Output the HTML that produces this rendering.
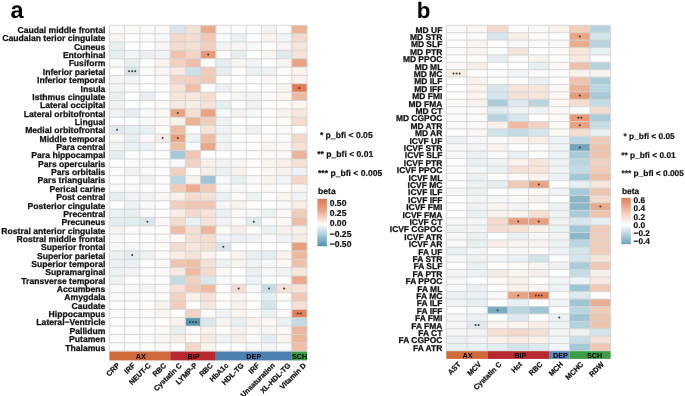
<!DOCTYPE html>
<html><head><meta charset="utf-8"><style>
html,body{margin:0;padding:0;background:#fff;}
svg{display:block;will-change:transform;}
text{font-family:"Liberation Sans",sans-serif;fill:#111;text-rendering:geometricPrecision;}
.rl{font-weight:bold;text-anchor:end;stroke:#111;stroke-width:0.25px;}
.cl{font-weight:bold;text-anchor:end;stroke:#111;stroke-width:0.25px;}
.gl{font-size:7.25px;font-weight:bold;text-anchor:middle;fill:#000;}
.pl{font-size:23.5px;font-weight:bold;fill:#000;}
.sg{font-weight:bold;stroke:#111;stroke-width:0.2px;}
.lt{font-size:8.6px;font-weight:bold;stroke:#111;stroke-width:0.2px;}
.ll{font-size:8.6px;font-weight:bold;stroke:#111;stroke-width:0.2px;}
line{stroke:#d2d2d2;stroke-width:0.9;}
line.tk{stroke:#fff;stroke-width:0.4;opacity:0.6;}
.st{fill:#383838;}
</style></head><body>
<svg width="685" height="396" viewBox="0 0 685 396">
<rect width="685" height="396" fill="#fff"/>
<rect x="109.40" y="25.30" width="15.20" height="8.355" fill="#f7f9fa"/>
<rect x="124.60" y="25.30" width="15.20" height="8.355" fill="#fbf8f5"/>
<rect x="139.80" y="25.30" width="15.20" height="8.355" fill="#f7f9fa"/>
<rect x="155.00" y="25.30" width="15.20" height="8.355" fill="#fbf8f5"/>
<rect x="170.20" y="25.30" width="15.20" height="8.355" fill="#d8e7ed"/>
<rect x="185.40" y="25.30" width="15.20" height="8.355" fill="#f5e0d4"/>
<rect x="200.60" y="25.30" width="15.20" height="8.355" fill="#eaad8f"/>
<rect x="215.80" y="25.30" width="15.20" height="8.355" fill="#fafbfb"/>
<rect x="231.00" y="25.30" width="15.20" height="8.355" fill="#fdfdfd"/>
<rect x="246.20" y="25.30" width="15.20" height="8.355" fill="#fdfdfd"/>
<rect x="261.40" y="25.30" width="15.20" height="8.355" fill="#eff3f5"/>
<rect x="276.60" y="25.30" width="15.20" height="8.355" fill="#fdfdfd"/>
<rect x="291.80" y="25.30" width="15.20" height="8.355" fill="#ebb296"/>
<rect x="109.40" y="33.66" width="15.20" height="8.355" fill="#faf4ef"/>
<rect x="124.60" y="33.66" width="15.20" height="8.355" fill="#fdfdfd"/>
<rect x="139.80" y="33.66" width="15.20" height="8.355" fill="#fcf9f7"/>
<rect x="155.00" y="33.66" width="15.20" height="8.355" fill="#f5f7f8"/>
<rect x="170.20" y="33.66" width="15.20" height="8.355" fill="#f4d8ca"/>
<rect x="185.40" y="33.66" width="15.20" height="8.355" fill="#f4dcce"/>
<rect x="200.60" y="33.66" width="15.20" height="8.355" fill="#f0c8b4"/>
<rect x="215.80" y="33.66" width="15.20" height="8.355" fill="#f7f9fa"/>
<rect x="231.00" y="33.66" width="15.20" height="8.355" fill="#eaf1f4"/>
<rect x="246.20" y="33.66" width="15.20" height="8.355" fill="#fdfdfd"/>
<rect x="261.40" y="33.66" width="15.20" height="8.355" fill="#faf3ed"/>
<rect x="276.60" y="33.66" width="15.20" height="8.355" fill="#f2f5f7"/>
<rect x="291.80" y="33.66" width="15.20" height="8.355" fill="#f4dacc"/>
<rect x="109.40" y="42.01" width="15.20" height="8.355" fill="#e6f0f3"/>
<rect x="124.60" y="42.01" width="15.20" height="8.355" fill="#fdfdfd"/>
<rect x="139.80" y="42.01" width="15.20" height="8.355" fill="#fdfdfd"/>
<rect x="155.00" y="42.01" width="15.20" height="8.355" fill="#fbf6f2"/>
<rect x="170.20" y="42.01" width="15.20" height="8.355" fill="#f4dcce"/>
<rect x="185.40" y="42.01" width="15.20" height="8.355" fill="#f5e0d4"/>
<rect x="200.60" y="42.01" width="15.20" height="8.355" fill="#f2d1c0"/>
<rect x="215.80" y="42.01" width="15.20" height="8.355" fill="#f2f5f7"/>
<rect x="231.00" y="42.01" width="15.20" height="8.355" fill="#fbf6f2"/>
<rect x="246.20" y="42.01" width="15.20" height="8.355" fill="#f7f9fa"/>
<rect x="261.40" y="42.01" width="15.20" height="8.355" fill="#fdfdfd"/>
<rect x="276.60" y="42.01" width="15.20" height="8.355" fill="#faf4ef"/>
<rect x="291.80" y="42.01" width="15.20" height="8.355" fill="#f6e5db"/>
<rect x="109.40" y="50.37" width="15.20" height="8.355" fill="#e4eff2"/>
<rect x="124.60" y="50.37" width="15.20" height="8.355" fill="#f2f5f7"/>
<rect x="139.80" y="50.37" width="15.20" height="8.355" fill="#eaf1f4"/>
<rect x="155.00" y="50.37" width="15.20" height="8.355" fill="#eff3f5"/>
<rect x="170.20" y="50.37" width="15.20" height="8.355" fill="#efc3ac"/>
<rect x="185.40" y="50.37" width="15.20" height="8.355" fill="#f3d6c6"/>
<rect x="200.60" y="50.37" width="15.20" height="8.355" fill="#e99976"/>
<rect x="215.80" y="50.37" width="15.20" height="8.355" fill="#fdfdfd"/>
<rect x="231.00" y="50.37" width="15.20" height="8.355" fill="#e3eef2"/>
<rect x="246.20" y="50.37" width="15.20" height="8.355" fill="#fdfdfd"/>
<rect x="261.40" y="50.37" width="15.20" height="8.355" fill="#faf4ef"/>
<rect x="276.60" y="50.37" width="15.20" height="8.355" fill="#deeaf0"/>
<rect x="291.80" y="50.37" width="15.20" height="8.355" fill="#f6e4d9"/>
<rect x="109.40" y="58.72" width="15.20" height="8.355" fill="#fcf9f7"/>
<rect x="124.60" y="58.72" width="15.20" height="8.355" fill="#e6f0f3"/>
<rect x="139.80" y="58.72" width="15.20" height="8.355" fill="#fdfdfd"/>
<rect x="155.00" y="58.72" width="15.20" height="8.355" fill="#faf3ed"/>
<rect x="170.20" y="58.72" width="15.20" height="8.355" fill="#f2d1c0"/>
<rect x="185.40" y="58.72" width="15.20" height="8.355" fill="#eebfa7"/>
<rect x="200.60" y="58.72" width="15.20" height="8.355" fill="#fafbfb"/>
<rect x="215.80" y="58.72" width="15.20" height="8.355" fill="#e3eef2"/>
<rect x="231.00" y="58.72" width="15.20" height="8.355" fill="#faf4ef"/>
<rect x="246.20" y="58.72" width="15.20" height="8.355" fill="#f2f5f7"/>
<rect x="261.40" y="58.72" width="15.20" height="8.355" fill="#fdfdfd"/>
<rect x="276.60" y="58.72" width="15.20" height="8.355" fill="#faf4ef"/>
<rect x="291.80" y="58.72" width="15.20" height="8.355" fill="#e9a383"/>
<rect x="109.40" y="67.08" width="15.20" height="8.355" fill="#fdfdfd"/>
<rect x="124.60" y="67.08" width="15.20" height="8.355" fill="#d8e7ed"/>
<rect x="139.80" y="67.08" width="15.20" height="8.355" fill="#fafbfb"/>
<rect x="155.00" y="67.08" width="15.20" height="8.355" fill="#fbf6f2"/>
<rect x="170.20" y="67.08" width="15.20" height="8.355" fill="#f7eae2"/>
<rect x="185.40" y="67.08" width="15.20" height="8.355" fill="#cce0e8"/>
<rect x="200.60" y="67.08" width="15.20" height="8.355" fill="#f1ccb8"/>
<rect x="215.80" y="67.08" width="15.20" height="8.355" fill="#e3eef2"/>
<rect x="231.00" y="67.08" width="15.20" height="8.355" fill="#fdfdfd"/>
<rect x="246.20" y="67.08" width="15.20" height="8.355" fill="#e8f1f3"/>
<rect x="261.40" y="67.08" width="15.20" height="8.355" fill="#edf2f5"/>
<rect x="276.60" y="67.08" width="15.20" height="8.355" fill="#fafbfb"/>
<rect x="291.80" y="67.08" width="15.20" height="8.355" fill="#faf4ef"/>
<rect x="109.40" y="75.43" width="15.20" height="8.355" fill="#f2f5f7"/>
<rect x="124.60" y="75.43" width="15.20" height="8.355" fill="#f2f5f7"/>
<rect x="139.80" y="75.43" width="15.20" height="8.355" fill="#fdfdfd"/>
<rect x="155.00" y="75.43" width="15.20" height="8.355" fill="#fcf9f7"/>
<rect x="170.20" y="75.43" width="15.20" height="8.355" fill="#f3d4c4"/>
<rect x="185.40" y="75.43" width="15.20" height="8.355" fill="#f2cfbe"/>
<rect x="200.60" y="75.43" width="15.20" height="8.355" fill="#f0cab6"/>
<rect x="215.80" y="75.43" width="15.20" height="8.355" fill="#fdfdfd"/>
<rect x="231.00" y="75.43" width="15.20" height="8.355" fill="#fdfdfd"/>
<rect x="246.20" y="75.43" width="15.20" height="8.355" fill="#fdfdfd"/>
<rect x="261.40" y="75.43" width="15.20" height="8.355" fill="#fbf8f5"/>
<rect x="276.60" y="75.43" width="15.20" height="8.355" fill="#fdfdfd"/>
<rect x="291.80" y="75.43" width="15.20" height="8.355" fill="#faf3ed"/>
<rect x="109.40" y="83.78" width="15.20" height="8.355" fill="#f2f5f7"/>
<rect x="124.60" y="83.78" width="15.20" height="8.355" fill="#f7f9fa"/>
<rect x="139.80" y="83.78" width="15.20" height="8.355" fill="#fdfdfd"/>
<rect x="155.00" y="83.78" width="15.20" height="8.355" fill="#fdfdfd"/>
<rect x="170.20" y="83.78" width="15.20" height="8.355" fill="#f6e4d9"/>
<rect x="185.40" y="83.78" width="15.20" height="8.355" fill="#eebfa7"/>
<rect x="200.60" y="83.78" width="15.20" height="8.355" fill="#fdfdfd"/>
<rect x="215.80" y="83.78" width="15.20" height="8.355" fill="#edf2f5"/>
<rect x="231.00" y="83.78" width="15.20" height="8.355" fill="#fcf9f7"/>
<rect x="246.20" y="83.78" width="15.20" height="8.355" fill="#fdfdfd"/>
<rect x="261.40" y="83.78" width="15.20" height="8.355" fill="#fdfdfd"/>
<rect x="276.60" y="83.78" width="15.20" height="8.355" fill="#faf4ef"/>
<rect x="291.80" y="83.78" width="15.20" height="8.355" fill="#e37a50"/>
<rect x="109.40" y="92.14" width="15.20" height="8.355" fill="#e6f0f3"/>
<rect x="124.60" y="92.14" width="15.20" height="8.355" fill="#fafbfb"/>
<rect x="139.80" y="92.14" width="15.20" height="8.355" fill="#e6f0f3"/>
<rect x="155.00" y="92.14" width="15.20" height="8.355" fill="#fafbfb"/>
<rect x="170.20" y="92.14" width="15.20" height="8.355" fill="#f6e6dc"/>
<rect x="185.40" y="92.14" width="15.20" height="8.355" fill="#f7e8de"/>
<rect x="200.60" y="92.14" width="15.20" height="8.355" fill="#f4dcce"/>
<rect x="215.80" y="92.14" width="15.20" height="8.355" fill="#fdfdfd"/>
<rect x="231.00" y="92.14" width="15.20" height="8.355" fill="#faf4ef"/>
<rect x="246.20" y="92.14" width="15.20" height="8.355" fill="#eff3f5"/>
<rect x="261.40" y="92.14" width="15.20" height="8.355" fill="#fcf9f7"/>
<rect x="276.60" y="92.14" width="15.20" height="8.355" fill="#fbf6f2"/>
<rect x="291.80" y="92.14" width="15.20" height="8.355" fill="#edbba2"/>
<rect x="109.40" y="100.50" width="15.20" height="8.355" fill="#eff3f5"/>
<rect x="124.60" y="100.50" width="15.20" height="8.355" fill="#fdfdfd"/>
<rect x="139.80" y="100.50" width="15.20" height="8.355" fill="#fdfdfd"/>
<rect x="155.00" y="100.50" width="15.20" height="8.355" fill="#fcf9f7"/>
<rect x="170.20" y="100.50" width="15.20" height="8.355" fill="#f7eae2"/>
<rect x="185.40" y="100.50" width="15.20" height="8.355" fill="#f8ede5"/>
<rect x="200.60" y="100.50" width="15.20" height="8.355" fill="#f6e3d7"/>
<rect x="215.80" y="100.50" width="15.20" height="8.355" fill="#e4eff2"/>
<rect x="231.00" y="100.50" width="15.20" height="8.355" fill="#fdfdfd"/>
<rect x="246.20" y="100.50" width="15.20" height="8.355" fill="#eff3f5"/>
<rect x="261.40" y="100.50" width="15.20" height="8.355" fill="#fdfdfd"/>
<rect x="276.60" y="100.50" width="15.20" height="8.355" fill="#fdfdfd"/>
<rect x="291.80" y="100.50" width="15.20" height="8.355" fill="#fbf6f2"/>
<rect x="109.40" y="108.85" width="15.20" height="8.355" fill="#edf2f5"/>
<rect x="124.60" y="108.85" width="15.20" height="8.355" fill="#e4eff2"/>
<rect x="139.80" y="108.85" width="15.20" height="8.355" fill="#f7f9fa"/>
<rect x="155.00" y="108.85" width="15.20" height="8.355" fill="#fbf6f2"/>
<rect x="170.20" y="108.85" width="15.20" height="8.355" fill="#e9a383"/>
<rect x="185.40" y="108.85" width="15.20" height="8.355" fill="#f5e0d4"/>
<rect x="200.60" y="108.85" width="15.20" height="8.355" fill="#e9a383"/>
<rect x="215.80" y="108.85" width="15.20" height="8.355" fill="#f5f7f8"/>
<rect x="231.00" y="108.85" width="15.20" height="8.355" fill="#f9f1eb"/>
<rect x="246.20" y="108.85" width="15.20" height="8.355" fill="#f5f7f8"/>
<rect x="261.40" y="108.85" width="15.20" height="8.355" fill="#fdfdfd"/>
<rect x="276.60" y="108.85" width="15.20" height="8.355" fill="#faf3ed"/>
<rect x="291.80" y="108.85" width="15.20" height="8.355" fill="#f7e8de"/>
<rect x="109.40" y="117.20" width="15.20" height="8.355" fill="#fafbfb"/>
<rect x="124.60" y="117.20" width="15.20" height="8.355" fill="#fdfdfd"/>
<rect x="139.80" y="117.20" width="15.20" height="8.355" fill="#f7f9fa"/>
<rect x="155.00" y="117.20" width="15.20" height="8.355" fill="#fcf9f7"/>
<rect x="170.20" y="117.20" width="15.20" height="8.355" fill="#faf3ed"/>
<rect x="185.40" y="117.20" width="15.20" height="8.355" fill="#ebb296"/>
<rect x="200.60" y="117.20" width="15.20" height="8.355" fill="#f1cdbb"/>
<rect x="215.80" y="117.20" width="15.20" height="8.355" fill="#edf2f5"/>
<rect x="231.00" y="117.20" width="15.20" height="8.355" fill="#fdfdfd"/>
<rect x="246.20" y="117.20" width="15.20" height="8.355" fill="#fdfdfd"/>
<rect x="261.40" y="117.20" width="15.20" height="8.355" fill="#fdfdfd"/>
<rect x="276.60" y="117.20" width="15.20" height="8.355" fill="#fcf9f7"/>
<rect x="291.80" y="117.20" width="15.20" height="8.355" fill="#f4ddd0"/>
<rect x="109.40" y="125.56" width="15.20" height="8.355" fill="#deeaf0"/>
<rect x="124.60" y="125.56" width="15.20" height="8.355" fill="#e6f0f3"/>
<rect x="139.80" y="125.56" width="15.20" height="8.355" fill="#e6f0f3"/>
<rect x="155.00" y="125.56" width="15.20" height="8.355" fill="#fdfdfd"/>
<rect x="170.20" y="125.56" width="15.20" height="8.355" fill="#edbba2"/>
<rect x="185.40" y="125.56" width="15.20" height="8.355" fill="#fdfdfd"/>
<rect x="200.60" y="125.56" width="15.20" height="8.355" fill="#f6e3d7"/>
<rect x="215.80" y="125.56" width="15.20" height="8.355" fill="#eff3f5"/>
<rect x="231.00" y="125.56" width="15.20" height="8.355" fill="#fcf9f7"/>
<rect x="246.20" y="125.56" width="15.20" height="8.355" fill="#eff3f5"/>
<rect x="261.40" y="125.56" width="15.20" height="8.355" fill="#fdfdfd"/>
<rect x="276.60" y="125.56" width="15.20" height="8.355" fill="#fbf8f5"/>
<rect x="291.80" y="125.56" width="15.20" height="8.355" fill="#fdfdfd"/>
<rect x="109.40" y="133.92" width="15.20" height="8.355" fill="#fbf6f2"/>
<rect x="124.60" y="133.92" width="15.20" height="8.355" fill="#e6f0f3"/>
<rect x="139.80" y="133.92" width="15.20" height="8.355" fill="#fcf9f7"/>
<rect x="155.00" y="133.92" width="15.20" height="8.355" fill="#f8eee7"/>
<rect x="170.20" y="133.92" width="15.20" height="8.355" fill="#e9a383"/>
<rect x="185.40" y="133.92" width="15.20" height="8.355" fill="#edf2f5"/>
<rect x="200.60" y="133.92" width="15.20" height="8.355" fill="#edbba2"/>
<rect x="215.80" y="133.92" width="15.20" height="8.355" fill="#edf2f5"/>
<rect x="231.00" y="133.92" width="15.20" height="8.355" fill="#fdfdfd"/>
<rect x="246.20" y="133.92" width="15.20" height="8.355" fill="#fdfdfd"/>
<rect x="261.40" y="133.92" width="15.20" height="8.355" fill="#fcf9f7"/>
<rect x="276.60" y="133.92" width="15.20" height="8.355" fill="#f7f9fa"/>
<rect x="291.80" y="133.92" width="15.20" height="8.355" fill="#f4d8ca"/>
<rect x="109.40" y="142.27" width="15.20" height="8.355" fill="#edf2f5"/>
<rect x="124.60" y="142.27" width="15.20" height="8.355" fill="#e8f1f3"/>
<rect x="139.80" y="142.27" width="15.20" height="8.355" fill="#eaf1f4"/>
<rect x="155.00" y="142.27" width="15.20" height="8.355" fill="#fafbfb"/>
<rect x="170.20" y="142.27" width="15.20" height="8.355" fill="#eebfa7"/>
<rect x="185.40" y="142.27" width="15.20" height="8.355" fill="#fdfdfd"/>
<rect x="200.60" y="142.27" width="15.20" height="8.355" fill="#eaa98a"/>
<rect x="215.80" y="142.27" width="15.20" height="8.355" fill="#eff3f5"/>
<rect x="231.00" y="142.27" width="15.20" height="8.355" fill="#fafbfb"/>
<rect x="246.20" y="142.27" width="15.20" height="8.355" fill="#fdfdfd"/>
<rect x="261.40" y="142.27" width="15.20" height="8.355" fill="#faf4ef"/>
<rect x="276.60" y="142.27" width="15.20" height="8.355" fill="#fbf8f5"/>
<rect x="291.80" y="142.27" width="15.20" height="8.355" fill="#f5e1d6"/>
<rect x="109.40" y="150.62" width="15.20" height="8.355" fill="#e3eef2"/>
<rect x="124.60" y="150.62" width="15.20" height="8.355" fill="#fafbfb"/>
<rect x="139.80" y="150.62" width="15.20" height="8.355" fill="#fdfdfd"/>
<rect x="155.00" y="150.62" width="15.20" height="8.355" fill="#fdfdfd"/>
<rect x="170.20" y="150.62" width="15.20" height="8.355" fill="#a6c9d9"/>
<rect x="185.40" y="150.62" width="15.20" height="8.355" fill="#f0c6b1"/>
<rect x="200.60" y="150.62" width="15.20" height="8.355" fill="#fdfdfd"/>
<rect x="215.80" y="150.62" width="15.20" height="8.355" fill="#fdfdfd"/>
<rect x="231.00" y="150.62" width="15.20" height="8.355" fill="#fdfdfd"/>
<rect x="246.20" y="150.62" width="15.20" height="8.355" fill="#fdfdfd"/>
<rect x="261.40" y="150.62" width="15.20" height="8.355" fill="#fbf8f5"/>
<rect x="276.60" y="150.62" width="15.20" height="8.355" fill="#fbf8f5"/>
<rect x="291.80" y="150.62" width="15.20" height="8.355" fill="#ebb296"/>
<rect x="109.40" y="158.98" width="15.20" height="8.355" fill="#fdfdfd"/>
<rect x="124.60" y="158.98" width="15.20" height="8.355" fill="#fafbfb"/>
<rect x="139.80" y="158.98" width="15.20" height="8.355" fill="#f7f9fa"/>
<rect x="155.00" y="158.98" width="15.20" height="8.355" fill="#fdfdfd"/>
<rect x="170.20" y="158.98" width="15.20" height="8.355" fill="#f7f9fa"/>
<rect x="185.40" y="158.98" width="15.20" height="8.355" fill="#f2d2c2"/>
<rect x="200.60" y="158.98" width="15.20" height="8.355" fill="#f9f1eb"/>
<rect x="215.80" y="158.98" width="15.20" height="8.355" fill="#eff3f5"/>
<rect x="231.00" y="158.98" width="15.20" height="8.355" fill="#fbf6f2"/>
<rect x="246.20" y="158.98" width="15.20" height="8.355" fill="#fdfdfd"/>
<rect x="261.40" y="158.98" width="15.20" height="8.355" fill="#faf4ef"/>
<rect x="276.60" y="158.98" width="15.20" height="8.355" fill="#f9f0e9"/>
<rect x="291.80" y="158.98" width="15.20" height="8.355" fill="#f5e1d6"/>
<rect x="109.40" y="167.34" width="15.20" height="8.355" fill="#fafbfb"/>
<rect x="124.60" y="167.34" width="15.20" height="8.355" fill="#eff3f5"/>
<rect x="139.80" y="167.34" width="15.20" height="8.355" fill="#f7f9fa"/>
<rect x="155.00" y="167.34" width="15.20" height="8.355" fill="#fdfdfd"/>
<rect x="170.20" y="167.34" width="15.20" height="8.355" fill="#f2cfbe"/>
<rect x="185.40" y="167.34" width="15.20" height="8.355" fill="#fdfdfd"/>
<rect x="200.60" y="167.34" width="15.20" height="8.355" fill="#f8eee7"/>
<rect x="215.80" y="167.34" width="15.20" height="8.355" fill="#e8f1f3"/>
<rect x="231.00" y="167.34" width="15.20" height="8.355" fill="#f9f1eb"/>
<rect x="246.20" y="167.34" width="15.20" height="8.355" fill="#fdfdfd"/>
<rect x="261.40" y="167.34" width="15.20" height="8.355" fill="#fbf6f2"/>
<rect x="276.60" y="167.34" width="15.20" height="8.355" fill="#f9f1eb"/>
<rect x="291.80" y="167.34" width="15.20" height="8.355" fill="#eaf1f4"/>
<rect x="109.40" y="175.69" width="15.20" height="8.355" fill="#fdfdfd"/>
<rect x="124.60" y="175.69" width="15.20" height="8.355" fill="#fdfdfd"/>
<rect x="139.80" y="175.69" width="15.20" height="8.355" fill="#eff3f5"/>
<rect x="155.00" y="175.69" width="15.20" height="8.355" fill="#fdfdfd"/>
<rect x="170.20" y="175.69" width="15.20" height="8.355" fill="#bbd6e1"/>
<rect x="185.40" y="175.69" width="15.20" height="8.355" fill="#faf3ed"/>
<rect x="200.60" y="175.69" width="15.20" height="8.355" fill="#9fc5d6"/>
<rect x="215.80" y="175.69" width="15.20" height="8.355" fill="#f7f9fa"/>
<rect x="231.00" y="175.69" width="15.20" height="8.355" fill="#e6f0f3"/>
<rect x="246.20" y="175.69" width="15.20" height="8.355" fill="#fcf9f7"/>
<rect x="261.40" y="175.69" width="15.20" height="8.355" fill="#faf3ed"/>
<rect x="276.60" y="175.69" width="15.20" height="8.355" fill="#f2f5f7"/>
<rect x="291.80" y="175.69" width="15.20" height="8.355" fill="#f3d6c6"/>
<rect x="109.40" y="184.05" width="15.20" height="8.355" fill="#fcf9f7"/>
<rect x="124.60" y="184.05" width="15.20" height="8.355" fill="#fcf9f7"/>
<rect x="139.80" y="184.05" width="15.20" height="8.355" fill="#fdfdfd"/>
<rect x="155.00" y="184.05" width="15.20" height="8.355" fill="#fdfdfd"/>
<rect x="170.20" y="184.05" width="15.20" height="8.355" fill="#f0cab6"/>
<rect x="185.40" y="184.05" width="15.20" height="8.355" fill="#eaad8f"/>
<rect x="200.60" y="184.05" width="15.20" height="8.355" fill="#f0cab6"/>
<rect x="215.80" y="184.05" width="15.20" height="8.355" fill="#f7f9fa"/>
<rect x="231.00" y="184.05" width="15.20" height="8.355" fill="#f7f9fa"/>
<rect x="246.20" y="184.05" width="15.20" height="8.355" fill="#fdfdfd"/>
<rect x="261.40" y="184.05" width="15.20" height="8.355" fill="#fbf8f5"/>
<rect x="276.60" y="184.05" width="15.20" height="8.355" fill="#fdfdfd"/>
<rect x="291.80" y="184.05" width="15.20" height="8.355" fill="#fbf6f2"/>
<rect x="109.40" y="192.40" width="15.20" height="8.355" fill="#e4eff2"/>
<rect x="124.60" y="192.40" width="15.20" height="8.355" fill="#eff3f5"/>
<rect x="139.80" y="192.40" width="15.20" height="8.355" fill="#eff3f5"/>
<rect x="155.00" y="192.40" width="15.20" height="8.355" fill="#fbf6f2"/>
<rect x="170.20" y="192.40" width="15.20" height="8.355" fill="#f9f0e9"/>
<rect x="185.40" y="192.40" width="15.20" height="8.355" fill="#f4ddd0"/>
<rect x="200.60" y="192.40" width="15.20" height="8.355" fill="#f6e3d7"/>
<rect x="215.80" y="192.40" width="15.20" height="8.355" fill="#eaf1f4"/>
<rect x="231.00" y="192.40" width="15.20" height="8.355" fill="#fcf9f7"/>
<rect x="246.20" y="192.40" width="15.20" height="8.355" fill="#ebf2f4"/>
<rect x="261.40" y="192.40" width="15.20" height="8.355" fill="#fdfdfd"/>
<rect x="276.60" y="192.40" width="15.20" height="8.355" fill="#faf4ef"/>
<rect x="291.80" y="192.40" width="15.20" height="8.355" fill="#eff3f5"/>
<rect x="109.40" y="200.76" width="15.20" height="8.355" fill="#fdfdfd"/>
<rect x="124.60" y="200.76" width="15.20" height="8.355" fill="#eff3f5"/>
<rect x="139.80" y="200.76" width="15.20" height="8.355" fill="#fcf9f7"/>
<rect x="155.00" y="200.76" width="15.20" height="8.355" fill="#fdfdfd"/>
<rect x="170.20" y="200.76" width="15.20" height="8.355" fill="#f1cdbb"/>
<rect x="185.40" y="200.76" width="15.20" height="8.355" fill="#f0c6b1"/>
<rect x="200.60" y="200.76" width="15.20" height="8.355" fill="#f0c6b1"/>
<rect x="215.80" y="200.76" width="15.20" height="8.355" fill="#f5f7f8"/>
<rect x="231.00" y="200.76" width="15.20" height="8.355" fill="#faf4ef"/>
<rect x="246.20" y="200.76" width="15.20" height="8.355" fill="#fdfdfd"/>
<rect x="261.40" y="200.76" width="15.20" height="8.355" fill="#fdfdfd"/>
<rect x="276.60" y="200.76" width="15.20" height="8.355" fill="#fcf9f7"/>
<rect x="291.80" y="200.76" width="15.20" height="8.355" fill="#f8eee7"/>
<rect x="109.40" y="209.11" width="15.20" height="8.355" fill="#e8f1f3"/>
<rect x="124.60" y="209.11" width="15.20" height="8.355" fill="#e6f0f3"/>
<rect x="139.80" y="209.11" width="15.20" height="8.355" fill="#f7f9fa"/>
<rect x="155.00" y="209.11" width="15.20" height="8.355" fill="#fdfdfd"/>
<rect x="170.20" y="209.11" width="15.20" height="8.355" fill="#f8eee7"/>
<rect x="185.40" y="209.11" width="15.20" height="8.355" fill="#f4d8ca"/>
<rect x="200.60" y="209.11" width="15.20" height="8.355" fill="#f6e4d9"/>
<rect x="215.80" y="209.11" width="15.20" height="8.355" fill="#eaf1f4"/>
<rect x="231.00" y="209.11" width="15.20" height="8.355" fill="#fcf9f7"/>
<rect x="246.20" y="209.11" width="15.20" height="8.355" fill="#f5f7f8"/>
<rect x="261.40" y="209.11" width="15.20" height="8.355" fill="#eaf1f4"/>
<rect x="276.60" y="209.11" width="15.20" height="8.355" fill="#fcf9f7"/>
<rect x="291.80" y="209.11" width="15.20" height="8.355" fill="#f1ccb8"/>
<rect x="109.40" y="217.47" width="15.20" height="8.355" fill="#e1edf1"/>
<rect x="124.60" y="217.47" width="15.20" height="8.355" fill="#e1edf1"/>
<rect x="139.80" y="217.47" width="15.20" height="8.355" fill="#dae8ee"/>
<rect x="155.00" y="217.47" width="15.20" height="8.355" fill="#fbf8f5"/>
<rect x="170.20" y="217.47" width="15.20" height="8.355" fill="#f4ddd0"/>
<rect x="185.40" y="217.47" width="15.20" height="8.355" fill="#eaf1f4"/>
<rect x="200.60" y="217.47" width="15.20" height="8.355" fill="#f6e4d9"/>
<rect x="215.80" y="217.47" width="15.20" height="8.355" fill="#eff3f5"/>
<rect x="231.00" y="217.47" width="15.20" height="8.355" fill="#fbf8f5"/>
<rect x="246.20" y="217.47" width="15.20" height="8.355" fill="#dfecf0"/>
<rect x="261.40" y="217.47" width="15.20" height="8.355" fill="#fafbfb"/>
<rect x="276.60" y="217.47" width="15.20" height="8.355" fill="#fcf9f7"/>
<rect x="291.80" y="217.47" width="15.20" height="8.355" fill="#eebda5"/>
<rect x="109.40" y="225.82" width="15.20" height="8.355" fill="#faf3ed"/>
<rect x="124.60" y="225.82" width="15.20" height="8.355" fill="#fcfbfa"/>
<rect x="139.80" y="225.82" width="15.20" height="8.355" fill="#fcfbfa"/>
<rect x="155.00" y="225.82" width="15.20" height="8.355" fill="#fdfdfd"/>
<rect x="170.20" y="225.82" width="15.20" height="8.355" fill="#eebda5"/>
<rect x="185.40" y="225.82" width="15.20" height="8.355" fill="#f5e0d4"/>
<rect x="200.60" y="225.82" width="15.20" height="8.355" fill="#ecb69b"/>
<rect x="215.80" y="225.82" width="15.20" height="8.355" fill="#fcfbfa"/>
<rect x="231.00" y="225.82" width="15.20" height="8.355" fill="#f8ede5"/>
<rect x="246.20" y="225.82" width="15.20" height="8.355" fill="#fdfdfd"/>
<rect x="261.40" y="225.82" width="15.20" height="8.355" fill="#e8f1f3"/>
<rect x="276.60" y="225.82" width="15.20" height="8.355" fill="#f9f0e9"/>
<rect x="291.80" y="225.82" width="15.20" height="8.355" fill="#f9f1eb"/>
<rect x="109.40" y="234.18" width="15.20" height="8.355" fill="#f7f9fa"/>
<rect x="124.60" y="234.18" width="15.20" height="8.355" fill="#fdfdfd"/>
<rect x="139.80" y="234.18" width="15.20" height="8.355" fill="#fdfdfd"/>
<rect x="155.00" y="234.18" width="15.20" height="8.355" fill="#fcf9f7"/>
<rect x="170.20" y="234.18" width="15.20" height="8.355" fill="#fbf8f5"/>
<rect x="185.40" y="234.18" width="15.20" height="8.355" fill="#f5e0d4"/>
<rect x="200.60" y="234.18" width="15.20" height="8.355" fill="#f4ddd0"/>
<rect x="215.80" y="234.18" width="15.20" height="8.355" fill="#eff3f5"/>
<rect x="231.00" y="234.18" width="15.20" height="8.355" fill="#eaf1f4"/>
<rect x="246.20" y="234.18" width="15.20" height="8.355" fill="#eff3f5"/>
<rect x="261.40" y="234.18" width="15.20" height="8.355" fill="#f7f9fa"/>
<rect x="276.60" y="234.18" width="15.20" height="8.355" fill="#eff3f5"/>
<rect x="291.80" y="234.18" width="15.20" height="8.355" fill="#f8ede5"/>
<rect x="109.40" y="242.53" width="15.20" height="8.355" fill="#f5f7f8"/>
<rect x="124.60" y="242.53" width="15.20" height="8.355" fill="#f5f7f8"/>
<rect x="139.80" y="242.53" width="15.20" height="8.355" fill="#f7f9fa"/>
<rect x="155.00" y="242.53" width="15.20" height="8.355" fill="#fcf9f7"/>
<rect x="170.20" y="242.53" width="15.20" height="8.355" fill="#f4dcce"/>
<rect x="185.40" y="242.53" width="15.20" height="8.355" fill="#f6e6dc"/>
<rect x="200.60" y="242.53" width="15.20" height="8.355" fill="#f5e0d4"/>
<rect x="215.80" y="242.53" width="15.20" height="8.355" fill="#dae8ee"/>
<rect x="231.00" y="242.53" width="15.20" height="8.355" fill="#fdfdfd"/>
<rect x="246.20" y="242.53" width="15.20" height="8.355" fill="#fdfdfd"/>
<rect x="261.40" y="242.53" width="15.20" height="8.355" fill="#fdfdfd"/>
<rect x="276.60" y="242.53" width="15.20" height="8.355" fill="#fdfdfd"/>
<rect x="291.80" y="242.53" width="15.20" height="8.355" fill="#e9a07f"/>
<rect x="109.40" y="250.89" width="15.20" height="8.355" fill="#ebf2f4"/>
<rect x="124.60" y="250.89" width="15.20" height="8.355" fill="#e3eef2"/>
<rect x="139.80" y="250.89" width="15.20" height="8.355" fill="#ebf2f4"/>
<rect x="155.00" y="250.89" width="15.20" height="8.355" fill="#fbf8f5"/>
<rect x="170.20" y="250.89" width="15.20" height="8.355" fill="#f8ede5"/>
<rect x="185.40" y="250.89" width="15.20" height="8.355" fill="#f6e3d7"/>
<rect x="200.60" y="250.89" width="15.20" height="8.355" fill="#faf3ed"/>
<rect x="215.80" y="250.89" width="15.20" height="8.355" fill="#fdfdfd"/>
<rect x="231.00" y="250.89" width="15.20" height="8.355" fill="#faf3ed"/>
<rect x="246.20" y="250.89" width="15.20" height="8.355" fill="#e6f0f3"/>
<rect x="261.40" y="250.89" width="15.20" height="8.355" fill="#e3eef2"/>
<rect x="276.60" y="250.89" width="15.20" height="8.355" fill="#faf4ef"/>
<rect x="291.80" y="250.89" width="15.20" height="8.355" fill="#edbaa0"/>
<rect x="109.40" y="259.24" width="15.20" height="8.355" fill="#eaf1f4"/>
<rect x="124.60" y="259.24" width="15.20" height="8.355" fill="#eaf1f4"/>
<rect x="139.80" y="259.24" width="15.20" height="8.355" fill="#fdfdfd"/>
<rect x="155.00" y="259.24" width="15.20" height="8.355" fill="#fbf8f5"/>
<rect x="170.20" y="259.24" width="15.20" height="8.355" fill="#efc4ae"/>
<rect x="185.40" y="259.24" width="15.20" height="8.355" fill="#eebfa7"/>
<rect x="200.60" y="259.24" width="15.20" height="8.355" fill="#f6e3d7"/>
<rect x="215.80" y="259.24" width="15.20" height="8.355" fill="#ebf2f4"/>
<rect x="231.00" y="259.24" width="15.20" height="8.355" fill="#faf4ef"/>
<rect x="246.20" y="259.24" width="15.20" height="8.355" fill="#eff3f5"/>
<rect x="261.40" y="259.24" width="15.20" height="8.355" fill="#f5f7f8"/>
<rect x="276.60" y="259.24" width="15.20" height="8.355" fill="#fbf8f5"/>
<rect x="291.80" y="259.24" width="15.20" height="8.355" fill="#eec1aa"/>
<rect x="109.40" y="267.60" width="15.20" height="8.355" fill="#eaf1f4"/>
<rect x="124.60" y="267.60" width="15.20" height="8.355" fill="#eff3f5"/>
<rect x="139.80" y="267.60" width="15.20" height="8.355" fill="#fafbfb"/>
<rect x="155.00" y="267.60" width="15.20" height="8.355" fill="#fbf8f5"/>
<rect x="170.20" y="267.60" width="15.20" height="8.355" fill="#f7eae2"/>
<rect x="185.40" y="267.60" width="15.20" height="8.355" fill="#edbba2"/>
<rect x="200.60" y="267.60" width="15.20" height="8.355" fill="#f4dacc"/>
<rect x="215.80" y="267.60" width="15.20" height="8.355" fill="#fcf9f7"/>
<rect x="231.00" y="267.60" width="15.20" height="8.355" fill="#fdfdfd"/>
<rect x="246.20" y="267.60" width="15.20" height="8.355" fill="#eaf1f4"/>
<rect x="261.40" y="267.60" width="15.20" height="8.355" fill="#f5f7f8"/>
<rect x="276.60" y="267.60" width="15.20" height="8.355" fill="#eff3f5"/>
<rect x="291.80" y="267.60" width="15.20" height="8.355" fill="#f7e8de"/>
<rect x="109.40" y="275.95" width="15.20" height="8.355" fill="#edf2f5"/>
<rect x="124.60" y="275.95" width="15.20" height="8.355" fill="#fdfdfd"/>
<rect x="139.80" y="275.95" width="15.20" height="8.355" fill="#fcfbfa"/>
<rect x="155.00" y="275.95" width="15.20" height="8.355" fill="#fdfdfd"/>
<rect x="170.20" y="275.95" width="15.20" height="8.355" fill="#c3dbe4"/>
<rect x="185.40" y="275.95" width="15.20" height="8.355" fill="#f2d1c0"/>
<rect x="200.60" y="275.95" width="15.20" height="8.355" fill="#dae8ee"/>
<rect x="215.80" y="275.95" width="15.20" height="8.355" fill="#f7f9fa"/>
<rect x="231.00" y="275.95" width="15.20" height="8.355" fill="#fdfdfd"/>
<rect x="246.20" y="275.95" width="15.20" height="8.355" fill="#ebf2f4"/>
<rect x="261.40" y="275.95" width="15.20" height="8.355" fill="#fcfbfa"/>
<rect x="276.60" y="275.95" width="15.20" height="8.355" fill="#fdfdfd"/>
<rect x="291.80" y="275.95" width="15.20" height="8.355" fill="#eaa98a"/>
<rect x="109.40" y="284.31" width="15.20" height="8.355" fill="#f7f9fa"/>
<rect x="124.60" y="284.31" width="15.20" height="8.355" fill="#f5f7f8"/>
<rect x="139.80" y="284.31" width="15.20" height="8.355" fill="#f2f5f7"/>
<rect x="155.00" y="284.31" width="15.20" height="8.355" fill="#fcf9f7"/>
<rect x="170.20" y="284.31" width="15.20" height="8.355" fill="#f5e1d6"/>
<rect x="185.40" y="284.31" width="15.20" height="8.355" fill="#f0cab6"/>
<rect x="200.60" y="284.31" width="15.20" height="8.355" fill="#edbaa0"/>
<rect x="215.80" y="284.31" width="15.20" height="8.355" fill="#fdfdfd"/>
<rect x="231.00" y="284.31" width="15.20" height="8.355" fill="#f4ddd0"/>
<rect x="246.20" y="284.31" width="15.20" height="8.355" fill="#f7f9fa"/>
<rect x="261.40" y="284.31" width="15.20" height="8.355" fill="#c7dde6"/>
<rect x="276.60" y="284.31" width="15.20" height="8.355" fill="#f5e0d4"/>
<rect x="291.80" y="284.31" width="15.20" height="8.355" fill="#f6e3d7"/>
<rect x="109.40" y="292.66" width="15.20" height="8.355" fill="#f7f9fa"/>
<rect x="124.60" y="292.66" width="15.20" height="8.355" fill="#fbf8f5"/>
<rect x="139.80" y="292.66" width="15.20" height="8.355" fill="#fdfdfd"/>
<rect x="155.00" y="292.66" width="15.20" height="8.355" fill="#fbf8f5"/>
<rect x="170.20" y="292.66" width="15.20" height="8.355" fill="#f2d2c2"/>
<rect x="185.40" y="292.66" width="15.20" height="8.355" fill="#f9f1eb"/>
<rect x="200.60" y="292.66" width="15.20" height="8.355" fill="#f5e1d6"/>
<rect x="215.80" y="292.66" width="15.20" height="8.355" fill="#fdfdfd"/>
<rect x="231.00" y="292.66" width="15.20" height="8.355" fill="#faf4ef"/>
<rect x="246.20" y="292.66" width="15.20" height="8.355" fill="#fdfdfd"/>
<rect x="261.40" y="292.66" width="15.20" height="8.355" fill="#e3eef2"/>
<rect x="276.60" y="292.66" width="15.20" height="8.355" fill="#fbf8f5"/>
<rect x="291.80" y="292.66" width="15.20" height="8.355" fill="#f0c8b4"/>
<rect x="109.40" y="301.02" width="15.20" height="8.355" fill="#fdfdfd"/>
<rect x="124.60" y="301.02" width="15.20" height="8.355" fill="#fdfdfd"/>
<rect x="139.80" y="301.02" width="15.20" height="8.355" fill="#fdfdfd"/>
<rect x="155.00" y="301.02" width="15.20" height="8.355" fill="#faf3ed"/>
<rect x="170.20" y="301.02" width="15.20" height="8.355" fill="#f1cdbb"/>
<rect x="185.40" y="301.02" width="15.20" height="8.355" fill="#fdfdfd"/>
<rect x="200.60" y="301.02" width="15.20" height="8.355" fill="#f6e6dc"/>
<rect x="215.80" y="301.02" width="15.20" height="8.355" fill="#fdfdfd"/>
<rect x="231.00" y="301.02" width="15.20" height="8.355" fill="#f9f0e9"/>
<rect x="246.20" y="301.02" width="15.20" height="8.355" fill="#fdfdfd"/>
<rect x="261.40" y="301.02" width="15.20" height="8.355" fill="#d5e5ec"/>
<rect x="276.60" y="301.02" width="15.20" height="8.355" fill="#fdfdfd"/>
<rect x="291.80" y="301.02" width="15.20" height="8.355" fill="#f5e0d4"/>
<rect x="109.40" y="309.37" width="15.20" height="8.355" fill="#fafbfb"/>
<rect x="124.60" y="309.37" width="15.20" height="8.355" fill="#fcfbfa"/>
<rect x="139.80" y="309.37" width="15.20" height="8.355" fill="#fcfbfa"/>
<rect x="155.00" y="309.37" width="15.20" height="8.355" fill="#fbf6f2"/>
<rect x="170.20" y="309.37" width="15.20" height="8.355" fill="#fdfdfd"/>
<rect x="185.40" y="309.37" width="15.20" height="8.355" fill="#f2d2c2"/>
<rect x="200.60" y="309.37" width="15.20" height="8.355" fill="#fbf8f5"/>
<rect x="215.80" y="309.37" width="15.20" height="8.355" fill="#eff3f5"/>
<rect x="231.00" y="309.37" width="15.20" height="8.355" fill="#faf4ef"/>
<rect x="246.20" y="309.37" width="15.20" height="8.355" fill="#fcfbfa"/>
<rect x="261.40" y="309.37" width="15.20" height="8.355" fill="#e8f1f3"/>
<rect x="276.60" y="309.37" width="15.20" height="8.355" fill="#fcf9f7"/>
<rect x="291.80" y="309.37" width="15.20" height="8.355" fill="#e48058"/>
<rect x="109.40" y="317.73" width="15.20" height="8.355" fill="#fdfdfd"/>
<rect x="124.60" y="317.73" width="15.20" height="8.355" fill="#fdfdfd"/>
<rect x="139.80" y="317.73" width="15.20" height="8.355" fill="#fafbfb"/>
<rect x="155.00" y="317.73" width="15.20" height="8.355" fill="#fdfdfd"/>
<rect x="170.20" y="317.73" width="15.20" height="8.355" fill="#faf3ed"/>
<rect x="185.40" y="317.73" width="15.20" height="8.355" fill="#5597ac"/>
<rect x="200.60" y="317.73" width="15.20" height="8.355" fill="#dae8ee"/>
<rect x="215.80" y="317.73" width="15.20" height="8.355" fill="#faf4ef"/>
<rect x="231.00" y="317.73" width="15.20" height="8.355" fill="#e6f0f3"/>
<rect x="246.20" y="317.73" width="15.20" height="8.355" fill="#faf4ef"/>
<rect x="261.40" y="317.73" width="15.20" height="8.355" fill="#fbf8f5"/>
<rect x="276.60" y="317.73" width="15.20" height="8.355" fill="#eaf1f4"/>
<rect x="291.80" y="317.73" width="15.20" height="8.355" fill="#c3dbe4"/>
<rect x="109.40" y="326.08" width="15.20" height="8.355" fill="#fdfdfd"/>
<rect x="124.60" y="326.08" width="15.20" height="8.355" fill="#fdfdfd"/>
<rect x="139.80" y="326.08" width="15.20" height="8.355" fill="#fdfdfd"/>
<rect x="155.00" y="326.08" width="15.20" height="8.355" fill="#fcf9f7"/>
<rect x="170.20" y="326.08" width="15.20" height="8.355" fill="#e6f0f3"/>
<rect x="185.40" y="326.08" width="15.20" height="8.355" fill="#f7f9fa"/>
<rect x="200.60" y="326.08" width="15.20" height="8.355" fill="#f9f0e9"/>
<rect x="215.80" y="326.08" width="15.20" height="8.355" fill="#fdfdfd"/>
<rect x="231.00" y="326.08" width="15.20" height="8.355" fill="#f9f1eb"/>
<rect x="246.20" y="326.08" width="15.20" height="8.355" fill="#f7f9fa"/>
<rect x="261.40" y="326.08" width="15.20" height="8.355" fill="#f5f7f8"/>
<rect x="276.60" y="326.08" width="15.20" height="8.355" fill="#fbf8f5"/>
<rect x="291.80" y="326.08" width="15.20" height="8.355" fill="#ecb69b"/>
<rect x="109.40" y="334.44" width="15.20" height="8.355" fill="#fcf9f7"/>
<rect x="124.60" y="334.44" width="15.20" height="8.355" fill="#fdfdfd"/>
<rect x="139.80" y="334.44" width="15.20" height="8.355" fill="#fbf8f5"/>
<rect x="155.00" y="334.44" width="15.20" height="8.355" fill="#fbf6f2"/>
<rect x="170.20" y="334.44" width="15.20" height="8.355" fill="#f8ede5"/>
<rect x="185.40" y="334.44" width="15.20" height="8.355" fill="#fcf9f7"/>
<rect x="200.60" y="334.44" width="15.20" height="8.355" fill="#f7eae2"/>
<rect x="215.80" y="334.44" width="15.20" height="8.355" fill="#edf2f5"/>
<rect x="231.00" y="334.44" width="15.20" height="8.355" fill="#f8ede5"/>
<rect x="246.20" y="334.44" width="15.20" height="8.355" fill="#f7f9fa"/>
<rect x="261.40" y="334.44" width="15.20" height="8.355" fill="#e3eef2"/>
<rect x="276.60" y="334.44" width="15.20" height="8.355" fill="#faf3ed"/>
<rect x="291.80" y="334.44" width="15.20" height="8.355" fill="#ecb69b"/>
<rect x="109.40" y="342.79" width="15.20" height="8.355" fill="#fdfdfd"/>
<rect x="124.60" y="342.79" width="15.20" height="8.355" fill="#fdfdfd"/>
<rect x="139.80" y="342.79" width="15.20" height="8.355" fill="#fdfdfd"/>
<rect x="155.00" y="342.79" width="15.20" height="8.355" fill="#fbf8f5"/>
<rect x="170.20" y="342.79" width="15.20" height="8.355" fill="#fdfdfd"/>
<rect x="185.40" y="342.79" width="15.20" height="8.355" fill="#f3d6c6"/>
<rect x="200.60" y="342.79" width="15.20" height="8.355" fill="#faf4ef"/>
<rect x="215.80" y="342.79" width="15.20" height="8.355" fill="#fdfdfd"/>
<rect x="231.00" y="342.79" width="15.20" height="8.355" fill="#fdfdfd"/>
<rect x="246.20" y="342.79" width="15.20" height="8.355" fill="#f5f7f8"/>
<rect x="261.40" y="342.79" width="15.20" height="8.355" fill="#f2f5f7"/>
<rect x="276.60" y="342.79" width="15.20" height="8.355" fill="#f7f9fa"/>
<rect x="291.80" y="342.79" width="15.20" height="8.355" fill="#eebda5"/>
<line x1="109.40" x2="307.00" y1="25.30" y2="25.30"/>
<line x1="109.40" x2="307.00" y1="33.66" y2="33.66"/>
<line x1="109.40" x2="307.00" y1="42.01" y2="42.01"/>
<line x1="109.40" x2="307.00" y1="50.37" y2="50.37"/>
<line x1="109.40" x2="307.00" y1="58.72" y2="58.72"/>
<line x1="109.40" x2="307.00" y1="67.08" y2="67.08"/>
<line x1="109.40" x2="307.00" y1="75.43" y2="75.43"/>
<line x1="109.40" x2="307.00" y1="83.78" y2="83.78"/>
<line x1="109.40" x2="307.00" y1="92.14" y2="92.14"/>
<line x1="109.40" x2="307.00" y1="100.50" y2="100.50"/>
<line x1="109.40" x2="307.00" y1="108.85" y2="108.85"/>
<line x1="109.40" x2="307.00" y1="117.20" y2="117.20"/>
<line x1="109.40" x2="307.00" y1="125.56" y2="125.56"/>
<line x1="109.40" x2="307.00" y1="133.92" y2="133.92"/>
<line x1="109.40" x2="307.00" y1="142.27" y2="142.27"/>
<line x1="109.40" x2="307.00" y1="150.62" y2="150.62"/>
<line x1="109.40" x2="307.00" y1="158.98" y2="158.98"/>
<line x1="109.40" x2="307.00" y1="167.34" y2="167.34"/>
<line x1="109.40" x2="307.00" y1="175.69" y2="175.69"/>
<line x1="109.40" x2="307.00" y1="184.05" y2="184.05"/>
<line x1="109.40" x2="307.00" y1="192.40" y2="192.40"/>
<line x1="109.40" x2="307.00" y1="200.76" y2="200.76"/>
<line x1="109.40" x2="307.00" y1="209.11" y2="209.11"/>
<line x1="109.40" x2="307.00" y1="217.47" y2="217.47"/>
<line x1="109.40" x2="307.00" y1="225.82" y2="225.82"/>
<line x1="109.40" x2="307.00" y1="234.18" y2="234.18"/>
<line x1="109.40" x2="307.00" y1="242.53" y2="242.53"/>
<line x1="109.40" x2="307.00" y1="250.89" y2="250.89"/>
<line x1="109.40" x2="307.00" y1="259.24" y2="259.24"/>
<line x1="109.40" x2="307.00" y1="267.60" y2="267.60"/>
<line x1="109.40" x2="307.00" y1="275.95" y2="275.95"/>
<line x1="109.40" x2="307.00" y1="284.31" y2="284.31"/>
<line x1="109.40" x2="307.00" y1="292.66" y2="292.66"/>
<line x1="109.40" x2="307.00" y1="301.02" y2="301.02"/>
<line x1="109.40" x2="307.00" y1="309.37" y2="309.37"/>
<line x1="109.40" x2="307.00" y1="317.73" y2="317.73"/>
<line x1="109.40" x2="307.00" y1="326.08" y2="326.08"/>
<line x1="109.40" x2="307.00" y1="334.44" y2="334.44"/>
<line x1="109.40" x2="307.00" y1="342.79" y2="342.79"/>
<line x1="109.40" x2="307.00" y1="351.15" y2="351.15"/>
<line x1="109.40" x2="109.40" y1="25.30" y2="351.15"/>
<line x1="124.60" x2="124.60" y1="25.30" y2="351.15"/>
<line x1="139.80" x2="139.80" y1="25.30" y2="351.15"/>
<line x1="155.00" x2="155.00" y1="25.30" y2="351.15"/>
<line x1="170.20" x2="170.20" y1="25.30" y2="351.15"/>
<line x1="185.40" x2="185.40" y1="25.30" y2="351.15"/>
<line x1="200.60" x2="200.60" y1="25.30" y2="351.15"/>
<line x1="215.80" x2="215.80" y1="25.30" y2="351.15"/>
<line x1="231.00" x2="231.00" y1="25.30" y2="351.15"/>
<line x1="246.20" x2="246.20" y1="25.30" y2="351.15"/>
<line x1="261.40" x2="261.40" y1="25.30" y2="351.15"/>
<line x1="276.60" x2="276.60" y1="25.30" y2="351.15"/>
<line x1="291.80" x2="291.80" y1="25.30" y2="351.15"/>
<line x1="307.00" x2="307.00" y1="25.30" y2="351.15"/>
<circle class="st" cx="208.20" cy="54.54" r="1.0"/>
<circle class="st" cx="129.15" cy="71.25" r="1.0"/>
<circle class="st" cx="132.20" cy="71.25" r="1.0"/>
<circle class="st" cx="135.25" cy="71.25" r="1.0"/>
<circle class="st" cx="299.40" cy="87.96" r="1.0"/>
<circle class="st" cx="177.80" cy="113.03" r="1.0"/>
<circle class="st" cx="117.00" cy="129.74" r="1.0"/>
<circle class="st" cx="162.60" cy="138.09" r="1.0"/>
<circle class="st" cx="177.80" cy="138.09" r="1.0"/>
<circle class="st" cx="147.40" cy="221.64" r="1.0"/>
<circle class="st" cx="253.80" cy="221.64" r="1.0"/>
<circle class="st" cx="223.40" cy="246.71" r="1.0"/>
<circle class="st" cx="132.20" cy="255.06" r="1.0"/>
<circle class="st" cx="238.60" cy="288.48" r="1.0"/>
<circle class="st" cx="269.00" cy="288.48" r="1.0"/>
<circle class="st" cx="284.20" cy="288.48" r="1.0"/>
<circle class="st" cx="297.88" cy="313.55" r="1.0"/>
<circle class="st" cx="300.92" cy="313.55" r="1.0"/>
<circle class="st" cx="189.95" cy="321.90" r="1.0"/>
<circle class="st" cx="193.00" cy="321.90" r="1.0"/>
<circle class="st" cx="196.05" cy="321.90" r="1.0"/>
<text class="rl" x="105.40" y="33.06" font-size="8.6">Caudal middle frontal</text>
<text class="rl" x="105.40" y="41.41" font-size="8.6">Caudalan terior cingulate</text>
<text class="rl" x="105.40" y="49.77" font-size="8.6">Cuneus</text>
<text class="rl" x="105.40" y="58.12" font-size="8.6">Entorhinal</text>
<text class="rl" x="105.40" y="66.48" font-size="8.6">Fusiform</text>
<text class="rl" x="105.40" y="74.83" font-size="8.6">Inferior parietal</text>
<text class="rl" x="105.40" y="83.19" font-size="8.6">Inferior temporal</text>
<text class="rl" x="105.40" y="91.54" font-size="8.6">Insula</text>
<text class="rl" x="105.40" y="99.90" font-size="8.6">Isthmus cingulate</text>
<text class="rl" x="105.40" y="108.25" font-size="8.6">Lateral occipital</text>
<text class="rl" x="105.40" y="116.61" font-size="8.6">Lateral orbitofrontal</text>
<text class="rl" x="105.40" y="124.96" font-size="8.6">Lingual</text>
<text class="rl" x="105.40" y="133.32" font-size="8.6">Medial orbitofrontal</text>
<text class="rl" x="105.40" y="141.67" font-size="8.6">Middle temporal</text>
<text class="rl" x="105.40" y="150.03" font-size="8.6">Para central</text>
<text class="rl" x="105.40" y="158.38" font-size="8.6">Para hippocampal</text>
<text class="rl" x="105.40" y="166.74" font-size="8.6">Pars opercularis</text>
<text class="rl" x="105.40" y="175.09" font-size="8.6">Pars orbitalis</text>
<text class="rl" x="105.40" y="183.45" font-size="8.6">Pars triangularis</text>
<text class="rl" x="105.40" y="191.80" font-size="8.6">Perical carine</text>
<text class="rl" x="105.40" y="200.16" font-size="8.6">Post central</text>
<text class="rl" x="105.40" y="208.51" font-size="8.6">Posterior cingulate</text>
<text class="rl" x="105.40" y="216.87" font-size="8.6">Precentral</text>
<text class="rl" x="105.40" y="225.22" font-size="8.6">Precuneus</text>
<text class="rl" x="105.40" y="233.58" font-size="8.6">Rostral anterior cingulate</text>
<text class="rl" x="105.40" y="241.93" font-size="8.6">Rostral middle frontal</text>
<text class="rl" x="105.40" y="250.29" font-size="8.6">Superior frontal</text>
<text class="rl" x="105.40" y="258.64" font-size="8.6">Superior parietal</text>
<text class="rl" x="105.40" y="267.00" font-size="8.6">Superior temporal</text>
<text class="rl" x="105.40" y="275.35" font-size="8.6">Supramarginal</text>
<text class="rl" x="105.40" y="283.71" font-size="8.6">Transverse temporal</text>
<text class="rl" x="105.40" y="292.06" font-size="8.6">Accumbens</text>
<text class="rl" x="105.40" y="300.42" font-size="8.6">Amygdala</text>
<text class="rl" x="105.40" y="308.77" font-size="8.6">Caudate</text>
<text class="rl" x="105.40" y="317.13" font-size="8.6">Hippocampus</text>
<text class="rl" x="105.40" y="325.48" font-size="8.6">Lateral−Ventricle</text>
<text class="rl" x="105.40" y="333.84" font-size="8.6">Pallidum</text>
<text class="rl" x="105.40" y="342.19" font-size="8.6">Putamen</text>
<text class="rl" x="105.40" y="350.55" font-size="8.6">Thalamus</text>
<rect x="109.40" y="351.6" width="60.80" height="8.80" fill="#cf6a3b"/>
<text class="gl" x="140.70" y="358.60">AX</text>
<rect x="170.20" y="351.6" width="45.60" height="8.80" fill="#b8292f"/>
<text class="gl" x="193.50" y="358.60">BIP</text>
<rect x="215.80" y="351.6" width="76.00" height="8.80" fill="#4d7fb1"/>
<text class="gl" x="253.80" y="358.60">DEP</text>
<rect x="291.80" y="351.6" width="15.20" height="8.80" fill="#3b9c43"/>
<text class="gl" x="299.70" y="358.60">SCH</text>
<text class="cl" transform="translate(116.52,362.30) rotate(-45)" font-size="7.3" dy="0.7em">CRP</text>
<text class="cl" transform="translate(132.05,362.30) rotate(-45)" font-size="7.3" dy="0.7em">IRF</text>
<text class="cl" transform="translate(147.58,362.30) rotate(-45)" font-size="7.3" dy="0.7em">NEUT-C</text>
<text class="cl" transform="translate(163.10,362.30) rotate(-45)" font-size="7.3" dy="0.7em">RBC</text>
<text class="cl" transform="translate(178.63,362.30) rotate(-45)" font-size="7.3" dy="0.7em">Cystatin C</text>
<text class="cl" transform="translate(194.16,362.30) rotate(-45)" font-size="7.3" dy="0.7em">LYMP-P</text>
<text class="cl" transform="translate(209.69,362.30) rotate(-45)" font-size="7.3" dy="0.7em">RBC</text>
<text class="cl" transform="translate(225.22,362.30) rotate(-45)" font-size="7.3" dy="0.7em">HbA1c</text>
<text class="cl" transform="translate(240.74,362.30) rotate(-45)" font-size="7.3" dy="0.7em">HDL-TG</text>
<text class="cl" transform="translate(256.27,362.30) rotate(-45)" font-size="7.3" dy="0.7em">IRF</text>
<text class="cl" transform="translate(271.80,362.30) rotate(-45)" font-size="7.3" dy="0.7em">Unsaturation</text>
<text class="cl" transform="translate(287.33,362.30) rotate(-45)" font-size="7.3" dy="0.7em">XL-HDL-TG</text>
<text class="cl" transform="translate(302.86,362.30) rotate(-45)" font-size="7.3" dy="0.7em">Vitamin D</text>
<rect x="446.30" y="25.30" width="20.54" height="7.400" fill="#fbf8f5"/>
<rect x="466.84" y="25.30" width="20.54" height="7.400" fill="#fbf6f2"/>
<rect x="487.38" y="25.30" width="20.54" height="7.400" fill="#f4dacc"/>
<rect x="507.92" y="25.30" width="20.54" height="7.400" fill="#fdfdfd"/>
<rect x="528.46" y="25.30" width="20.54" height="7.400" fill="#fbf8f5"/>
<rect x="549.00" y="25.30" width="20.54" height="7.400" fill="#faf3ed"/>
<rect x="569.54" y="25.30" width="20.54" height="7.400" fill="#f1cdbb"/>
<rect x="590.08" y="25.30" width="20.54" height="7.400" fill="#b6d3df"/>
<rect x="446.30" y="32.70" width="20.54" height="7.400" fill="#fdfdfd"/>
<rect x="466.84" y="32.70" width="20.54" height="7.400" fill="#fcfbfa"/>
<rect x="487.38" y="32.70" width="20.54" height="7.400" fill="#d7e6ed"/>
<rect x="507.92" y="32.70" width="20.54" height="7.400" fill="#f9f0e9"/>
<rect x="528.46" y="32.70" width="20.54" height="7.400" fill="#fcf9f7"/>
<rect x="549.00" y="32.70" width="20.54" height="7.400" fill="#fdfdfd"/>
<rect x="569.54" y="32.70" width="20.54" height="7.400" fill="#e9a788"/>
<rect x="590.08" y="32.70" width="20.54" height="7.400" fill="#d3e4eb"/>
<rect x="446.30" y="40.10" width="20.54" height="7.400" fill="#fdfdfd"/>
<rect x="466.84" y="40.10" width="20.54" height="7.400" fill="#faf4ef"/>
<rect x="487.38" y="40.10" width="20.54" height="7.400" fill="#fdfdfd"/>
<rect x="507.92" y="40.10" width="20.54" height="7.400" fill="#fbf8f5"/>
<rect x="528.46" y="40.10" width="20.54" height="7.400" fill="#fcfbfa"/>
<rect x="549.00" y="40.10" width="20.54" height="7.400" fill="#fcf9f7"/>
<rect x="569.54" y="40.10" width="20.54" height="7.400" fill="#eaad8f"/>
<rect x="590.08" y="40.10" width="20.54" height="7.400" fill="#b6d3df"/>
<rect x="446.30" y="47.50" width="20.54" height="7.400" fill="#fcf9f7"/>
<rect x="466.84" y="47.50" width="20.54" height="7.400" fill="#faf4ef"/>
<rect x="487.38" y="47.50" width="20.54" height="7.400" fill="#fdfdfd"/>
<rect x="507.92" y="47.50" width="20.54" height="7.400" fill="#f6e5db"/>
<rect x="528.46" y="47.50" width="20.54" height="7.400" fill="#fdfdfd"/>
<rect x="549.00" y="47.50" width="20.54" height="7.400" fill="#fcf9f7"/>
<rect x="569.54" y="47.50" width="20.54" height="7.400" fill="#f6e6dc"/>
<rect x="590.08" y="47.50" width="20.54" height="7.400" fill="#e6f0f3"/>
<rect x="446.30" y="54.90" width="20.54" height="7.400" fill="#fdfdfd"/>
<rect x="466.84" y="54.90" width="20.54" height="7.400" fill="#fdfdfd"/>
<rect x="487.38" y="54.90" width="20.54" height="7.400" fill="#e3eef2"/>
<rect x="507.92" y="54.90" width="20.54" height="7.400" fill="#fbf8f5"/>
<rect x="528.46" y="54.90" width="20.54" height="7.400" fill="#faf4ef"/>
<rect x="549.00" y="54.90" width="20.54" height="7.400" fill="#fdfdfd"/>
<rect x="569.54" y="54.90" width="20.54" height="7.400" fill="#f7eae2"/>
<rect x="590.08" y="54.90" width="20.54" height="7.400" fill="#fafbfb"/>
<rect x="446.30" y="62.30" width="20.54" height="7.400" fill="#fcf9f7"/>
<rect x="466.84" y="62.30" width="20.54" height="7.400" fill="#f8ede5"/>
<rect x="487.38" y="62.30" width="20.54" height="7.400" fill="#fdfdfd"/>
<rect x="507.92" y="62.30" width="20.54" height="7.400" fill="#fdfdfd"/>
<rect x="528.46" y="62.30" width="20.54" height="7.400" fill="#e6f0f3"/>
<rect x="549.00" y="62.30" width="20.54" height="7.400" fill="#fbf8f5"/>
<rect x="569.54" y="62.30" width="20.54" height="7.400" fill="#eec1aa"/>
<rect x="590.08" y="62.30" width="20.54" height="7.400" fill="#b6d3df"/>
<rect x="446.30" y="69.70" width="20.54" height="7.400" fill="#f8ece3"/>
<rect x="466.84" y="69.70" width="20.54" height="7.400" fill="#fdfdfd"/>
<rect x="487.38" y="69.70" width="20.54" height="7.400" fill="#fcfbfa"/>
<rect x="507.92" y="69.70" width="20.54" height="7.400" fill="#f2f5f7"/>
<rect x="528.46" y="69.70" width="20.54" height="7.400" fill="#fcf9f7"/>
<rect x="549.00" y="69.70" width="20.54" height="7.400" fill="#fdfdfd"/>
<rect x="569.54" y="69.70" width="20.54" height="7.400" fill="#faf3ed"/>
<rect x="590.08" y="69.70" width="20.54" height="7.400" fill="#faf4ef"/>
<rect x="446.30" y="77.10" width="20.54" height="7.400" fill="#fdfdfd"/>
<rect x="466.84" y="77.10" width="20.54" height="7.400" fill="#faf3ed"/>
<rect x="487.38" y="77.10" width="20.54" height="7.400" fill="#fcfbfa"/>
<rect x="507.92" y="77.10" width="20.54" height="7.400" fill="#fcfbfa"/>
<rect x="528.46" y="77.10" width="20.54" height="7.400" fill="#eaf1f4"/>
<rect x="549.00" y="77.10" width="20.54" height="7.400" fill="#fdfdfd"/>
<rect x="569.54" y="77.10" width="20.54" height="7.400" fill="#efc4ae"/>
<rect x="590.08" y="77.10" width="20.54" height="7.400" fill="#a9cbda"/>
<rect x="446.30" y="84.50" width="20.54" height="7.400" fill="#fdfdfd"/>
<rect x="466.84" y="84.50" width="20.54" height="7.400" fill="#faf3ed"/>
<rect x="487.38" y="84.50" width="20.54" height="7.400" fill="#d8e7ed"/>
<rect x="507.92" y="84.50" width="20.54" height="7.400" fill="#f6e5db"/>
<rect x="528.46" y="84.50" width="20.54" height="7.400" fill="#f6e5db"/>
<rect x="549.00" y="84.50" width="20.54" height="7.400" fill="#fcf9f7"/>
<rect x="569.54" y="84.50" width="20.54" height="7.400" fill="#ebb296"/>
<rect x="590.08" y="84.50" width="20.54" height="7.400" fill="#b9d5e0"/>
<rect x="446.30" y="91.90" width="20.54" height="7.400" fill="#fdfdfd"/>
<rect x="466.84" y="91.90" width="20.54" height="7.400" fill="#faf4ef"/>
<rect x="487.38" y="91.90" width="20.54" height="7.400" fill="#d7e6ed"/>
<rect x="507.92" y="91.90" width="20.54" height="7.400" fill="#f5e1d6"/>
<rect x="528.46" y="91.90" width="20.54" height="7.400" fill="#f6e5db"/>
<rect x="549.00" y="91.90" width="20.54" height="7.400" fill="#fcf9f7"/>
<rect x="569.54" y="91.90" width="20.54" height="7.400" fill="#e99c7a"/>
<rect x="590.08" y="91.90" width="20.54" height="7.400" fill="#a6c9d9"/>
<rect x="446.30" y="99.30" width="20.54" height="7.400" fill="#fcf9f7"/>
<rect x="466.84" y="99.30" width="20.54" height="7.400" fill="#f9f1eb"/>
<rect x="487.38" y="99.30" width="20.54" height="7.400" fill="#a9cbda"/>
<rect x="507.92" y="99.30" width="20.54" height="7.400" fill="#deeaf0"/>
<rect x="528.46" y="99.30" width="20.54" height="7.400" fill="#b9d5e0"/>
<rect x="549.00" y="99.30" width="20.54" height="7.400" fill="#fcf9f7"/>
<rect x="569.54" y="99.30" width="20.54" height="7.400" fill="#f4dcce"/>
<rect x="590.08" y="99.30" width="20.54" height="7.400" fill="#c3dbe4"/>
<rect x="446.30" y="106.70" width="20.54" height="7.400" fill="#fcf9f7"/>
<rect x="466.84" y="106.70" width="20.54" height="7.400" fill="#fcf9f7"/>
<rect x="487.38" y="106.70" width="20.54" height="7.400" fill="#dfecf0"/>
<rect x="507.92" y="106.70" width="20.54" height="7.400" fill="#edf2f5"/>
<rect x="528.46" y="106.70" width="20.54" height="7.400" fill="#eff3f5"/>
<rect x="549.00" y="106.70" width="20.54" height="7.400" fill="#fcf9f7"/>
<rect x="569.54" y="106.70" width="20.54" height="7.400" fill="#fdfdfd"/>
<rect x="590.08" y="106.70" width="20.54" height="7.400" fill="#f4ddd0"/>
<rect x="446.30" y="114.10" width="20.54" height="7.400" fill="#fcfbfa"/>
<rect x="466.84" y="114.10" width="20.54" height="7.400" fill="#fcf9f7"/>
<rect x="487.38" y="114.10" width="20.54" height="7.400" fill="#b6d3df"/>
<rect x="507.92" y="114.10" width="20.54" height="7.400" fill="#d7e6ed"/>
<rect x="528.46" y="114.10" width="20.54" height="7.400" fill="#fdfdfd"/>
<rect x="549.00" y="114.10" width="20.54" height="7.400" fill="#fcf9f7"/>
<rect x="569.54" y="114.10" width="20.54" height="7.400" fill="#e99b79"/>
<rect x="590.08" y="114.10" width="20.54" height="7.400" fill="#a9cbda"/>
<rect x="446.30" y="121.50" width="20.54" height="7.400" fill="#fbf8f5"/>
<rect x="466.84" y="121.50" width="20.54" height="7.400" fill="#fbf8f5"/>
<rect x="487.38" y="121.50" width="20.54" height="7.400" fill="#f9f1eb"/>
<rect x="507.92" y="121.50" width="20.54" height="7.400" fill="#edbaa0"/>
<rect x="528.46" y="121.50" width="20.54" height="7.400" fill="#f2d2c2"/>
<rect x="549.00" y="121.50" width="20.54" height="7.400" fill="#fcfbfa"/>
<rect x="569.54" y="121.50" width="20.54" height="7.400" fill="#e9a383"/>
<rect x="590.08" y="121.50" width="20.54" height="7.400" fill="#c7dde6"/>
<rect x="446.30" y="128.90" width="20.54" height="7.400" fill="#fdfdfd"/>
<rect x="466.84" y="128.90" width="20.54" height="7.400" fill="#fbf6f2"/>
<rect x="487.38" y="128.90" width="20.54" height="7.400" fill="#d1e3ea"/>
<rect x="507.92" y="128.90" width="20.54" height="7.400" fill="#c3dbe4"/>
<rect x="528.46" y="128.90" width="20.54" height="7.400" fill="#d7e6ed"/>
<rect x="549.00" y="128.90" width="20.54" height="7.400" fill="#fbf8f5"/>
<rect x="569.54" y="128.90" width="20.54" height="7.400" fill="#f4dcce"/>
<rect x="590.08" y="128.90" width="20.54" height="7.400" fill="#eaf1f4"/>
<rect x="446.30" y="136.30" width="20.54" height="7.400" fill="#eaf1f4"/>
<rect x="466.84" y="136.30" width="20.54" height="7.400" fill="#f5f7f8"/>
<rect x="487.38" y="136.30" width="20.54" height="7.400" fill="#fcf9f7"/>
<rect x="507.92" y="136.30" width="20.54" height="7.400" fill="#faf3ed"/>
<rect x="528.46" y="136.30" width="20.54" height="7.400" fill="#f8eee7"/>
<rect x="549.00" y="136.30" width="20.54" height="7.400" fill="#edf2f5"/>
<rect x="569.54" y="136.30" width="20.54" height="7.400" fill="#bbd6e1"/>
<rect x="590.08" y="136.30" width="20.54" height="7.400" fill="#f0cab6"/>
<rect x="446.30" y="143.70" width="20.54" height="7.400" fill="#f5f7f8"/>
<rect x="466.84" y="143.70" width="20.54" height="7.400" fill="#f2f5f7"/>
<rect x="487.38" y="143.70" width="20.54" height="7.400" fill="#f9f1eb"/>
<rect x="507.92" y="143.70" width="20.54" height="7.400" fill="#fdfdfd"/>
<rect x="528.46" y="143.70" width="20.54" height="7.400" fill="#fcf9f7"/>
<rect x="549.00" y="143.70" width="20.54" height="7.400" fill="#eff3f5"/>
<rect x="569.54" y="143.70" width="20.54" height="7.400" fill="#6fa6bb"/>
<rect x="590.08" y="143.70" width="20.54" height="7.400" fill="#efc4ae"/>
<rect x="446.30" y="151.10" width="20.54" height="7.400" fill="#f5f7f8"/>
<rect x="466.84" y="151.10" width="20.54" height="7.400" fill="#eaf1f4"/>
<rect x="487.38" y="151.10" width="20.54" height="7.400" fill="#fcf9f7"/>
<rect x="507.92" y="151.10" width="20.54" height="7.400" fill="#e6f0f3"/>
<rect x="528.46" y="151.10" width="20.54" height="7.400" fill="#fdfdfd"/>
<rect x="549.00" y="151.10" width="20.54" height="7.400" fill="#eff3f5"/>
<rect x="569.54" y="151.10" width="20.54" height="7.400" fill="#a9cbda"/>
<rect x="590.08" y="151.10" width="20.54" height="7.400" fill="#efc4ae"/>
<rect x="446.30" y="158.50" width="20.54" height="7.400" fill="#fdfdfd"/>
<rect x="466.84" y="158.50" width="20.54" height="7.400" fill="#eaf1f4"/>
<rect x="487.38" y="158.50" width="20.54" height="7.400" fill="#eff3f5"/>
<rect x="507.92" y="158.50" width="20.54" height="7.400" fill="#f9f1eb"/>
<rect x="528.46" y="158.50" width="20.54" height="7.400" fill="#f6e5db"/>
<rect x="549.00" y="158.50" width="20.54" height="7.400" fill="#eff3f5"/>
<rect x="569.54" y="158.50" width="20.54" height="7.400" fill="#b9d5e0"/>
<rect x="590.08" y="158.50" width="20.54" height="7.400" fill="#f2cfbe"/>
<rect x="446.30" y="165.90" width="20.54" height="7.400" fill="#fafbfb"/>
<rect x="466.84" y="165.90" width="20.54" height="7.400" fill="#f2f5f7"/>
<rect x="487.38" y="165.90" width="20.54" height="7.400" fill="#eaf1f4"/>
<rect x="507.92" y="165.90" width="20.54" height="7.400" fill="#f5e1d6"/>
<rect x="528.46" y="165.90" width="20.54" height="7.400" fill="#f6e4d9"/>
<rect x="549.00" y="165.90" width="20.54" height="7.400" fill="#eff3f5"/>
<rect x="569.54" y="165.90" width="20.54" height="7.400" fill="#c3dbe4"/>
<rect x="590.08" y="165.90" width="20.54" height="7.400" fill="#f1ccb8"/>
<rect x="446.30" y="173.30" width="20.54" height="7.400" fill="#fdfdfd"/>
<rect x="466.84" y="173.30" width="20.54" height="7.400" fill="#e8f1f3"/>
<rect x="487.38" y="173.30" width="20.54" height="7.400" fill="#fcf9f7"/>
<rect x="507.92" y="173.30" width="20.54" height="7.400" fill="#fcf9f7"/>
<rect x="528.46" y="173.30" width="20.54" height="7.400" fill="#f9f1eb"/>
<rect x="549.00" y="173.30" width="20.54" height="7.400" fill="#edf2f5"/>
<rect x="569.54" y="173.30" width="20.54" height="7.400" fill="#a2c7d7"/>
<rect x="590.08" y="173.30" width="20.54" height="7.400" fill="#eebfa7"/>
<rect x="446.30" y="180.70" width="20.54" height="7.400" fill="#fdfdfd"/>
<rect x="466.84" y="180.70" width="20.54" height="7.400" fill="#ebf2f4"/>
<rect x="487.38" y="180.70" width="20.54" height="7.400" fill="#e6f0f3"/>
<rect x="507.92" y="180.70" width="20.54" height="7.400" fill="#f0cab6"/>
<rect x="528.46" y="180.70" width="20.54" height="7.400" fill="#e9a180"/>
<rect x="549.00" y="180.70" width="20.54" height="7.400" fill="#fdfdfd"/>
<rect x="569.54" y="180.70" width="20.54" height="7.400" fill="#e6f0f3"/>
<rect x="590.08" y="180.70" width="20.54" height="7.400" fill="#f6e5db"/>
<rect x="446.30" y="188.10" width="20.54" height="7.400" fill="#f5f7f8"/>
<rect x="466.84" y="188.10" width="20.54" height="7.400" fill="#eaf1f4"/>
<rect x="487.38" y="188.10" width="20.54" height="7.400" fill="#fdfdfd"/>
<rect x="507.92" y="188.10" width="20.54" height="7.400" fill="#fafbfb"/>
<rect x="528.46" y="188.10" width="20.54" height="7.400" fill="#fcf9f7"/>
<rect x="549.00" y="188.10" width="20.54" height="7.400" fill="#eff3f5"/>
<rect x="569.54" y="188.10" width="20.54" height="7.400" fill="#a8cad9"/>
<rect x="590.08" y="188.10" width="20.54" height="7.400" fill="#efc4ae"/>
<rect x="446.30" y="195.50" width="20.54" height="7.400" fill="#fdfdfd"/>
<rect x="466.84" y="195.50" width="20.54" height="7.400" fill="#f2f5f7"/>
<rect x="487.38" y="195.50" width="20.54" height="7.400" fill="#f5f7f8"/>
<rect x="507.92" y="195.50" width="20.54" height="7.400" fill="#fbf8f5"/>
<rect x="528.46" y="195.50" width="20.54" height="7.400" fill="#f9f0e9"/>
<rect x="549.00" y="195.50" width="20.54" height="7.400" fill="#fdfdfd"/>
<rect x="569.54" y="195.50" width="20.54" height="7.400" fill="#8bb7c9"/>
<rect x="590.08" y="195.50" width="20.54" height="7.400" fill="#f4dacc"/>
<rect x="446.30" y="202.90" width="20.54" height="7.400" fill="#fdfdfd"/>
<rect x="466.84" y="202.90" width="20.54" height="7.400" fill="#edf2f5"/>
<rect x="487.38" y="202.90" width="20.54" height="7.400" fill="#faf4ef"/>
<rect x="507.92" y="202.90" width="20.54" height="7.400" fill="#f2f5f7"/>
<rect x="528.46" y="202.90" width="20.54" height="7.400" fill="#fdfdfd"/>
<rect x="549.00" y="202.90" width="20.54" height="7.400" fill="#edf2f5"/>
<rect x="569.54" y="202.90" width="20.54" height="7.400" fill="#8bb7c9"/>
<rect x="590.08" y="202.90" width="20.54" height="7.400" fill="#eaa98a"/>
<rect x="446.30" y="210.30" width="20.54" height="7.400" fill="#fdfdfd"/>
<rect x="466.84" y="210.30" width="20.54" height="7.400" fill="#eaf1f4"/>
<rect x="487.38" y="210.30" width="20.54" height="7.400" fill="#f9f1eb"/>
<rect x="507.92" y="210.30" width="20.54" height="7.400" fill="#faf4ef"/>
<rect x="528.46" y="210.30" width="20.54" height="7.400" fill="#f5e0d4"/>
<rect x="549.00" y="210.30" width="20.54" height="7.400" fill="#eff3f5"/>
<rect x="569.54" y="210.30" width="20.54" height="7.400" fill="#a9cbda"/>
<rect x="590.08" y="210.30" width="20.54" height="7.400" fill="#efc4ae"/>
<rect x="446.30" y="217.70" width="20.54" height="7.400" fill="#f5f7f8"/>
<rect x="466.84" y="217.70" width="20.54" height="7.400" fill="#f2f5f7"/>
<rect x="487.38" y="217.70" width="20.54" height="7.400" fill="#f4dacc"/>
<rect x="507.92" y="217.70" width="20.54" height="7.400" fill="#e9a07f"/>
<rect x="528.46" y="217.70" width="20.54" height="7.400" fill="#e9a07f"/>
<rect x="549.00" y="217.70" width="20.54" height="7.400" fill="#edf2f5"/>
<rect x="569.54" y="217.70" width="20.54" height="7.400" fill="#d8e7ed"/>
<rect x="590.08" y="217.70" width="20.54" height="7.400" fill="#e6f0f3"/>
<rect x="446.30" y="225.10" width="20.54" height="7.400" fill="#edf2f5"/>
<rect x="466.84" y="225.10" width="20.54" height="7.400" fill="#eff3f5"/>
<rect x="487.38" y="225.10" width="20.54" height="7.400" fill="#f4dcce"/>
<rect x="507.92" y="225.10" width="20.54" height="7.400" fill="#f5e0d4"/>
<rect x="528.46" y="225.10" width="20.54" height="7.400" fill="#f9f0e9"/>
<rect x="549.00" y="225.10" width="20.54" height="7.400" fill="#ebf2f4"/>
<rect x="569.54" y="225.10" width="20.54" height="7.400" fill="#a2c7d7"/>
<rect x="590.08" y="225.10" width="20.54" height="7.400" fill="#f0cab6"/>
<rect x="446.30" y="232.50" width="20.54" height="7.400" fill="#f5f7f8"/>
<rect x="466.84" y="232.50" width="20.54" height="7.400" fill="#eaf1f4"/>
<rect x="487.38" y="232.50" width="20.54" height="7.400" fill="#fdfdfd"/>
<rect x="507.92" y="232.50" width="20.54" height="7.400" fill="#eaf1f4"/>
<rect x="528.46" y="232.50" width="20.54" height="7.400" fill="#f5f7f8"/>
<rect x="549.00" y="232.50" width="20.54" height="7.400" fill="#eff3f5"/>
<rect x="569.54" y="232.50" width="20.54" height="7.400" fill="#8bb7c9"/>
<rect x="590.08" y="232.50" width="20.54" height="7.400" fill="#f1ccb8"/>
<rect x="446.30" y="239.90" width="20.54" height="7.400" fill="#f7f9fa"/>
<rect x="466.84" y="239.90" width="20.54" height="7.400" fill="#e6f0f3"/>
<rect x="487.38" y="239.90" width="20.54" height="7.400" fill="#f8eee7"/>
<rect x="507.92" y="239.90" width="20.54" height="7.400" fill="#faf4ef"/>
<rect x="528.46" y="239.90" width="20.54" height="7.400" fill="#faf3ed"/>
<rect x="549.00" y="239.90" width="20.54" height="7.400" fill="#edf2f5"/>
<rect x="569.54" y="239.90" width="20.54" height="7.400" fill="#b9d5e0"/>
<rect x="590.08" y="239.90" width="20.54" height="7.400" fill="#f1ccb8"/>
<rect x="446.30" y="247.30" width="20.54" height="7.400" fill="#e6f0f3"/>
<rect x="466.84" y="247.30" width="20.54" height="7.400" fill="#f2f5f7"/>
<rect x="487.38" y="247.30" width="20.54" height="7.400" fill="#fdfdfd"/>
<rect x="507.92" y="247.30" width="20.54" height="7.400" fill="#f5f7f8"/>
<rect x="528.46" y="247.30" width="20.54" height="7.400" fill="#fcf9f7"/>
<rect x="549.00" y="247.30" width="20.54" height="7.400" fill="#edf2f5"/>
<rect x="569.54" y="247.30" width="20.54" height="7.400" fill="#d3e4eb"/>
<rect x="590.08" y="247.30" width="20.54" height="7.400" fill="#f1ccb8"/>
<rect x="446.30" y="254.70" width="20.54" height="7.400" fill="#f5f7f8"/>
<rect x="466.84" y="254.70" width="20.54" height="7.400" fill="#edf2f5"/>
<rect x="487.38" y="254.70" width="20.54" height="7.400" fill="#eff3f5"/>
<rect x="507.92" y="254.70" width="20.54" height="7.400" fill="#eaf1f4"/>
<rect x="528.46" y="254.70" width="20.54" height="7.400" fill="#d3e4eb"/>
<rect x="549.00" y="254.70" width="20.54" height="7.400" fill="#fafbfb"/>
<rect x="569.54" y="254.70" width="20.54" height="7.400" fill="#d7e6ed"/>
<rect x="590.08" y="254.70" width="20.54" height="7.400" fill="#f6e5db"/>
<rect x="446.30" y="262.10" width="20.54" height="7.400" fill="#fafbfb"/>
<rect x="466.84" y="262.10" width="20.54" height="7.400" fill="#eaf1f4"/>
<rect x="487.38" y="262.10" width="20.54" height="7.400" fill="#fdfdfd"/>
<rect x="507.92" y="262.10" width="20.54" height="7.400" fill="#fcf9f7"/>
<rect x="528.46" y="262.10" width="20.54" height="7.400" fill="#faf4ef"/>
<rect x="549.00" y="262.10" width="20.54" height="7.400" fill="#eff3f5"/>
<rect x="569.54" y="262.10" width="20.54" height="7.400" fill="#a9cbda"/>
<rect x="590.08" y="262.10" width="20.54" height="7.400" fill="#f0c8b4"/>
<rect x="446.30" y="269.50" width="20.54" height="7.400" fill="#f2f5f7"/>
<rect x="466.84" y="269.50" width="20.54" height="7.400" fill="#eaf1f4"/>
<rect x="487.38" y="269.50" width="20.54" height="7.400" fill="#f7eae2"/>
<rect x="507.92" y="269.50" width="20.54" height="7.400" fill="#faf4ef"/>
<rect x="528.46" y="269.50" width="20.54" height="7.400" fill="#f8eee7"/>
<rect x="549.00" y="269.50" width="20.54" height="7.400" fill="#fdfdfd"/>
<rect x="569.54" y="269.50" width="20.54" height="7.400" fill="#c7dde6"/>
<rect x="590.08" y="269.50" width="20.54" height="7.400" fill="#f9f1eb"/>
<rect x="446.30" y="276.90" width="20.54" height="7.400" fill="#f5f7f8"/>
<rect x="466.84" y="276.90" width="20.54" height="7.400" fill="#fdfdfd"/>
<rect x="487.38" y="276.90" width="20.54" height="7.400" fill="#fcf9f7"/>
<rect x="507.92" y="276.90" width="20.54" height="7.400" fill="#f9f0e9"/>
<rect x="528.46" y="276.90" width="20.54" height="7.400" fill="#fdfdfd"/>
<rect x="549.00" y="276.90" width="20.54" height="7.400" fill="#f2f5f7"/>
<rect x="569.54" y="276.90" width="20.54" height="7.400" fill="#edf2f5"/>
<rect x="590.08" y="276.90" width="20.54" height="7.400" fill="#f7eae2"/>
<rect x="446.30" y="284.30" width="20.54" height="7.400" fill="#f5f7f8"/>
<rect x="466.84" y="284.30" width="20.54" height="7.400" fill="#eaf1f4"/>
<rect x="487.38" y="284.30" width="20.54" height="7.400" fill="#fdfdfd"/>
<rect x="507.92" y="284.30" width="20.54" height="7.400" fill="#f9f0e9"/>
<rect x="528.46" y="284.30" width="20.54" height="7.400" fill="#faf4ef"/>
<rect x="549.00" y="284.30" width="20.54" height="7.400" fill="#edf2f5"/>
<rect x="569.54" y="284.30" width="20.54" height="7.400" fill="#9ec5d5"/>
<rect x="590.08" y="284.30" width="20.54" height="7.400" fill="#f0c8b4"/>
<rect x="446.30" y="291.70" width="20.54" height="7.400" fill="#eaf1f4"/>
<rect x="466.84" y="291.70" width="20.54" height="7.400" fill="#eaf1f4"/>
<rect x="487.38" y="291.70" width="20.54" height="7.400" fill="#fcf9f7"/>
<rect x="507.92" y="291.70" width="20.54" height="7.400" fill="#e9a282"/>
<rect x="528.46" y="291.70" width="20.54" height="7.400" fill="#e47e55"/>
<rect x="549.00" y="291.70" width="20.54" height="7.400" fill="#fdfdfd"/>
<rect x="569.54" y="291.70" width="20.54" height="7.400" fill="#deeaf0"/>
<rect x="590.08" y="291.70" width="20.54" height="7.400" fill="#fdfdfd"/>
<rect x="446.30" y="299.10" width="20.54" height="7.400" fill="#eff3f5"/>
<rect x="466.84" y="299.10" width="20.54" height="7.400" fill="#e6f0f3"/>
<rect x="487.38" y="299.10" width="20.54" height="7.400" fill="#fdfdfd"/>
<rect x="507.92" y="299.10" width="20.54" height="7.400" fill="#eaf1f4"/>
<rect x="528.46" y="299.10" width="20.54" height="7.400" fill="#fdfdfd"/>
<rect x="549.00" y="299.10" width="20.54" height="7.400" fill="#eff3f5"/>
<rect x="569.54" y="299.10" width="20.54" height="7.400" fill="#9ec5d5"/>
<rect x="590.08" y="299.10" width="20.54" height="7.400" fill="#eaad8f"/>
<rect x="446.30" y="306.50" width="20.54" height="7.400" fill="#fdfdfd"/>
<rect x="466.84" y="306.50" width="20.54" height="7.400" fill="#f7f9fa"/>
<rect x="487.38" y="306.50" width="20.54" height="7.400" fill="#78acc0"/>
<rect x="507.92" y="306.50" width="20.54" height="7.400" fill="#b9d5e0"/>
<rect x="528.46" y="306.50" width="20.54" height="7.400" fill="#9ec5d5"/>
<rect x="549.00" y="306.50" width="20.54" height="7.400" fill="#fdfdfd"/>
<rect x="569.54" y="306.50" width="20.54" height="7.400" fill="#b9d5e0"/>
<rect x="590.08" y="306.50" width="20.54" height="7.400" fill="#f1ccb8"/>
<rect x="446.30" y="313.90" width="20.54" height="7.400" fill="#f2f5f7"/>
<rect x="466.84" y="313.90" width="20.54" height="7.400" fill="#eaf1f4"/>
<rect x="487.38" y="313.90" width="20.54" height="7.400" fill="#fdfdfd"/>
<rect x="507.92" y="313.90" width="20.54" height="7.400" fill="#deeaf0"/>
<rect x="528.46" y="313.90" width="20.54" height="7.400" fill="#fdfdfd"/>
<rect x="549.00" y="313.90" width="20.54" height="7.400" fill="#edf2f5"/>
<rect x="569.54" y="313.90" width="20.54" height="7.400" fill="#9ec5d5"/>
<rect x="590.08" y="313.90" width="20.54" height="7.400" fill="#efc4ae"/>
<rect x="446.30" y="321.30" width="20.54" height="7.400" fill="#f5f7f8"/>
<rect x="466.84" y="321.30" width="20.54" height="7.400" fill="#deeaf0"/>
<rect x="487.38" y="321.30" width="20.54" height="7.400" fill="#faf4ef"/>
<rect x="507.92" y="321.30" width="20.54" height="7.400" fill="#faf4ef"/>
<rect x="528.46" y="321.30" width="20.54" height="7.400" fill="#f8eee7"/>
<rect x="549.00" y="321.30" width="20.54" height="7.400" fill="#eff3f5"/>
<rect x="569.54" y="321.30" width="20.54" height="7.400" fill="#b3d1de"/>
<rect x="590.08" y="321.30" width="20.54" height="7.400" fill="#efc4ae"/>
<rect x="446.30" y="328.70" width="20.54" height="7.400" fill="#f5f7f8"/>
<rect x="466.84" y="328.70" width="20.54" height="7.400" fill="#f2f5f7"/>
<rect x="487.38" y="328.70" width="20.54" height="7.400" fill="#f5e0d4"/>
<rect x="507.92" y="328.70" width="20.54" height="7.400" fill="#f3d7c8"/>
<rect x="528.46" y="328.70" width="20.54" height="7.400" fill="#f5e0d4"/>
<rect x="549.00" y="328.70" width="20.54" height="7.400" fill="#f2f5f7"/>
<rect x="569.54" y="328.70" width="20.54" height="7.400" fill="#edf2f5"/>
<rect x="590.08" y="328.70" width="20.54" height="7.400" fill="#d3e4eb"/>
<rect x="446.30" y="336.10" width="20.54" height="7.400" fill="#eaf1f4"/>
<rect x="466.84" y="336.10" width="20.54" height="7.400" fill="#eff3f5"/>
<rect x="487.38" y="336.10" width="20.54" height="7.400" fill="#f9f0e9"/>
<rect x="507.92" y="336.10" width="20.54" height="7.400" fill="#f8ede5"/>
<rect x="528.46" y="336.10" width="20.54" height="7.400" fill="#f9f0e9"/>
<rect x="549.00" y="336.10" width="20.54" height="7.400" fill="#f2f5f7"/>
<rect x="569.54" y="336.10" width="20.54" height="7.400" fill="#c7dde6"/>
<rect x="590.08" y="336.10" width="20.54" height="7.400" fill="#f5e0d4"/>
<rect x="446.30" y="343.50" width="20.54" height="7.400" fill="#eaf1f4"/>
<rect x="466.84" y="343.50" width="20.54" height="7.400" fill="#eaf1f4"/>
<rect x="487.38" y="343.50" width="20.54" height="7.400" fill="#e1edf1"/>
<rect x="507.92" y="343.50" width="20.54" height="7.400" fill="#d3e4eb"/>
<rect x="528.46" y="343.50" width="20.54" height="7.400" fill="#dce9ef"/>
<rect x="549.00" y="343.50" width="20.54" height="7.400" fill="#f2f5f7"/>
<rect x="569.54" y="343.50" width="20.54" height="7.400" fill="#a3c8d8"/>
<rect x="590.08" y="343.50" width="20.54" height="7.400" fill="#f0c8b4"/>
<line x1="446.30" x2="610.62" y1="25.30" y2="25.30"/>
<line x1="446.30" x2="610.62" y1="32.70" y2="32.70"/>
<line x1="446.30" x2="610.62" y1="40.10" y2="40.10"/>
<line x1="446.30" x2="610.62" y1="47.50" y2="47.50"/>
<line x1="446.30" x2="610.62" y1="54.90" y2="54.90"/>
<line x1="446.30" x2="610.62" y1="62.30" y2="62.30"/>
<line x1="446.30" x2="610.62" y1="69.70" y2="69.70"/>
<line x1="446.30" x2="610.62" y1="77.10" y2="77.10"/>
<line x1="446.30" x2="610.62" y1="84.50" y2="84.50"/>
<line x1="446.30" x2="610.62" y1="91.90" y2="91.90"/>
<line x1="446.30" x2="610.62" y1="99.30" y2="99.30"/>
<line x1="446.30" x2="610.62" y1="106.70" y2="106.70"/>
<line x1="446.30" x2="610.62" y1="114.10" y2="114.10"/>
<line x1="446.30" x2="610.62" y1="121.50" y2="121.50"/>
<line x1="446.30" x2="610.62" y1="128.90" y2="128.90"/>
<line x1="446.30" x2="610.62" y1="136.30" y2="136.30"/>
<line x1="446.30" x2="610.62" y1="143.70" y2="143.70"/>
<line x1="446.30" x2="610.62" y1="151.10" y2="151.10"/>
<line x1="446.30" x2="610.62" y1="158.50" y2="158.50"/>
<line x1="446.30" x2="610.62" y1="165.90" y2="165.90"/>
<line x1="446.30" x2="610.62" y1="173.30" y2="173.30"/>
<line x1="446.30" x2="610.62" y1="180.70" y2="180.70"/>
<line x1="446.30" x2="610.62" y1="188.10" y2="188.10"/>
<line x1="446.30" x2="610.62" y1="195.50" y2="195.50"/>
<line x1="446.30" x2="610.62" y1="202.90" y2="202.90"/>
<line x1="446.30" x2="610.62" y1="210.30" y2="210.30"/>
<line x1="446.30" x2="610.62" y1="217.70" y2="217.70"/>
<line x1="446.30" x2="610.62" y1="225.10" y2="225.10"/>
<line x1="446.30" x2="610.62" y1="232.50" y2="232.50"/>
<line x1="446.30" x2="610.62" y1="239.90" y2="239.90"/>
<line x1="446.30" x2="610.62" y1="247.30" y2="247.30"/>
<line x1="446.30" x2="610.62" y1="254.70" y2="254.70"/>
<line x1="446.30" x2="610.62" y1="262.10" y2="262.10"/>
<line x1="446.30" x2="610.62" y1="269.50" y2="269.50"/>
<line x1="446.30" x2="610.62" y1="276.90" y2="276.90"/>
<line x1="446.30" x2="610.62" y1="284.30" y2="284.30"/>
<line x1="446.30" x2="610.62" y1="291.70" y2="291.70"/>
<line x1="446.30" x2="610.62" y1="299.10" y2="299.10"/>
<line x1="446.30" x2="610.62" y1="306.50" y2="306.50"/>
<line x1="446.30" x2="610.62" y1="313.90" y2="313.90"/>
<line x1="446.30" x2="610.62" y1="321.30" y2="321.30"/>
<line x1="446.30" x2="610.62" y1="328.70" y2="328.70"/>
<line x1="446.30" x2="610.62" y1="336.10" y2="336.10"/>
<line x1="446.30" x2="610.62" y1="343.50" y2="343.50"/>
<line x1="446.30" x2="610.62" y1="350.90" y2="350.90"/>
<line x1="446.30" x2="446.30" y1="25.30" y2="350.90"/>
<line x1="466.84" x2="466.84" y1="25.30" y2="350.90"/>
<line x1="487.38" x2="487.38" y1="25.30" y2="350.90"/>
<line x1="507.92" x2="507.92" y1="25.30" y2="350.90"/>
<line x1="528.46" x2="528.46" y1="25.30" y2="350.90"/>
<line x1="549.00" x2="549.00" y1="25.30" y2="350.90"/>
<line x1="569.54" x2="569.54" y1="25.30" y2="350.90"/>
<line x1="590.08" x2="590.08" y1="25.30" y2="350.90"/>
<line x1="610.62" x2="610.62" y1="25.30" y2="350.90"/>
<circle class="st" cx="579.81" cy="36.40" r="1.0"/>
<circle class="st" cx="453.52" cy="73.40" r="1.0"/>
<circle class="st" cx="456.57" cy="73.40" r="1.0"/>
<circle class="st" cx="459.62" cy="73.40" r="1.0"/>
<circle class="st" cx="579.81" cy="95.60" r="1.0"/>
<circle class="st" cx="578.28" cy="117.80" r="1.0"/>
<circle class="st" cx="581.33" cy="117.80" r="1.0"/>
<circle class="st" cx="579.81" cy="125.20" r="1.0"/>
<circle class="st" cx="579.81" cy="147.40" r="1.0"/>
<circle class="st" cx="538.73" cy="184.40" r="1.0"/>
<circle class="st" cx="600.35" cy="206.60" r="1.0"/>
<circle class="st" cx="518.19" cy="221.40" r="1.0"/>
<circle class="st" cx="538.73" cy="221.40" r="1.0"/>
<circle class="st" cx="518.19" cy="295.40" r="1.0"/>
<circle class="st" cx="535.68" cy="295.40" r="1.0"/>
<circle class="st" cx="538.73" cy="295.40" r="1.0"/>
<circle class="st" cx="541.78" cy="295.40" r="1.0"/>
<circle class="st" cx="497.65" cy="310.20" r="1.0"/>
<circle class="st" cx="559.27" cy="317.60" r="1.0"/>
<circle class="st" cx="475.59" cy="325.00" r="1.0"/>
<circle class="st" cx="478.63" cy="325.00" r="1.0"/>
<text class="rl" x="442.30" y="32.53" font-size="8.45">MD UF</text>
<text class="rl" x="442.30" y="39.93" font-size="8.45">MD STR</text>
<text class="rl" x="442.30" y="47.33" font-size="8.45">MD SLF</text>
<text class="rl" x="442.30" y="54.73" font-size="8.45">MD PTR</text>
<text class="rl" x="442.30" y="62.13" font-size="8.45">MD PPOC</text>
<text class="rl" x="442.30" y="69.53" font-size="8.45">MD ML</text>
<text class="rl" x="442.30" y="76.93" font-size="8.45">MD MC</text>
<text class="rl" x="442.30" y="84.33" font-size="8.45">MD ILF</text>
<text class="rl" x="442.30" y="91.73" font-size="8.45">MD IFF</text>
<text class="rl" x="442.30" y="99.13" font-size="8.45">MD FMI</text>
<text class="rl" x="442.30" y="106.53" font-size="8.45">MD FMA</text>
<text class="rl" x="442.30" y="113.93" font-size="8.45">MD CT</text>
<text class="rl" x="442.30" y="121.33" font-size="8.45">MD CGPOC</text>
<text class="rl" x="442.30" y="128.73" font-size="8.45">MD ATR</text>
<text class="rl" x="442.30" y="136.13" font-size="8.45">MD AR</text>
<text class="rl" x="442.30" y="143.53" font-size="8.45">ICVF UF</text>
<text class="rl" x="442.30" y="150.93" font-size="8.45">ICVF STR</text>
<text class="rl" x="442.30" y="158.33" font-size="8.45">ICVF SLF</text>
<text class="rl" x="442.30" y="165.73" font-size="8.45">ICVF PTR</text>
<text class="rl" x="442.30" y="173.13" font-size="8.45">ICVF PPOC</text>
<text class="rl" x="442.30" y="180.53" font-size="8.45">ICVF ML</text>
<text class="rl" x="442.30" y="187.93" font-size="8.45">ICVF MC</text>
<text class="rl" x="442.30" y="195.33" font-size="8.45">ICVF ILF</text>
<text class="rl" x="442.30" y="202.73" font-size="8.45">ICVF IFF</text>
<text class="rl" x="442.30" y="210.13" font-size="8.45">ICVF FMI</text>
<text class="rl" x="442.30" y="217.53" font-size="8.45">ICVF FMA</text>
<text class="rl" x="442.30" y="224.93" font-size="8.45">ICVF CT</text>
<text class="rl" x="442.30" y="232.33" font-size="8.45">ICVF CGPOC</text>
<text class="rl" x="442.30" y="239.73" font-size="8.45">ICVF ATR</text>
<text class="rl" x="442.30" y="247.13" font-size="8.45">ICVF AR</text>
<text class="rl" x="442.30" y="254.53" font-size="8.45">FA UF</text>
<text class="rl" x="442.30" y="261.93" font-size="8.45">FA STR</text>
<text class="rl" x="442.30" y="269.33" font-size="8.45">FA SLF</text>
<text class="rl" x="442.30" y="276.73" font-size="8.45">FA PTR</text>
<text class="rl" x="442.30" y="284.13" font-size="8.45">FA PPOC</text>
<text class="rl" x="442.30" y="291.53" font-size="8.45">FA ML</text>
<text class="rl" x="442.30" y="298.93" font-size="8.45">FA MC</text>
<text class="rl" x="442.30" y="306.33" font-size="8.45">FA ILF</text>
<text class="rl" x="442.30" y="313.73" font-size="8.45">FA IFF</text>
<text class="rl" x="442.30" y="321.13" font-size="8.45">FA FMI</text>
<text class="rl" x="442.30" y="328.53" font-size="8.45">FA FMA</text>
<text class="rl" x="442.30" y="335.93" font-size="8.45">FA CT</text>
<text class="rl" x="442.30" y="343.33" font-size="8.45">FA CGPOC</text>
<text class="rl" x="442.30" y="350.73" font-size="8.45">FA ATR</text>
<rect x="446.30" y="351.2" width="41.08" height="7.70" fill="#cf6a3b"/>
<text class="gl" x="467.64" y="357.65">AX</text>
<rect x="487.38" y="351.2" width="61.62" height="7.70" fill="#b8292f"/>
<text class="gl" x="520.19" y="357.65">BIP</text>
<rect x="549.00" y="351.2" width="20.54" height="7.70" fill="#5b89bb"/>
<text class="gl" x="560.47" y="357.65">DEP</text>
<rect x="569.54" y="351.2" width="41.08" height="7.70" fill="#3b9c43"/>
<text class="gl" x="594.58" y="357.65">SCH</text>
<text class="cl" transform="translate(457.57,361.20) rotate(-45)" font-size="7.3" dy="0.7em">AST</text>
<text class="cl" transform="translate(478.01,361.20) rotate(-45)" font-size="7.3" dy="0.7em">MCV</text>
<text class="cl" transform="translate(498.45,361.20) rotate(-45)" font-size="7.3" dy="0.7em">Cystatin C</text>
<text class="cl" transform="translate(518.89,361.20) rotate(-45)" font-size="7.3" dy="0.7em">Hct</text>
<text class="cl" transform="translate(539.33,361.20) rotate(-45)" font-size="7.3" dy="0.7em">RBC</text>
<text class="cl" transform="translate(559.77,361.20) rotate(-45)" font-size="7.3" dy="0.7em">MCH</text>
<text class="cl" transform="translate(580.21,361.20) rotate(-45)" font-size="7.3" dy="0.7em">MCHC</text>
<text class="cl" transform="translate(600.65,361.20) rotate(-45)" font-size="7.3" dy="0.7em">RDW</text>
<text class="pl" x="10.6" y="17.9" style="font-size:23.5px">a</text><text class="pl" x="416.8" y="18.2" style="font-size:22.3px">b</text>
<text class="sg" x="319.9" y="138.4" font-size="8.6">* p_bfi &lt; 0.05</text>
<text class="sg" x="317.2" y="157.2" font-size="8.6">** p_bfi &lt; 0.01</text>
<text class="sg" x="318.0" y="175.8" font-size="8.6">*** p_bfi &lt; 0.005</text>
<text class="sg" x="623.5" y="139.2" font-size="8.35">* p_bfi &lt; 0.05</text>
<text class="sg" x="621.2" y="157.8" font-size="8.35">** p_bfi &lt; 0.01</text>
<text class="sg" x="621.5" y="175.8" font-size="8.35">*** p_bfi &lt; 0.005</text>
<linearGradient id="g317" x1="0" y1="0" x2="0" y2="1"><stop offset="0" stop-color="#df7a52"/><stop offset="0.27" stop-color="#ecaa8d"/><stop offset="0.538" stop-color="#fdfdfd"/><stop offset="0.77" stop-color="#a9cbd9"/><stop offset="1" stop-color="#4a92a9"/></linearGradient>
<rect x="317.3" y="198.8" width="9.6" height="47.39999999999998" fill="url(#g317)"/>
<text class="lt" x="318.1" y="193.7" style="font-size:8.6px">beta</text>
<text class="ll" x="329.7" y="205.71" style="font-size:8.6px">0.50</text>
<line class="tk" x1="317.3" x2="319.1" y1="202.7" y2="202.7"/><line class="tk" x1="325.1" x2="326.90000000000003" y1="202.7" y2="202.7"/>
<text class="ll" x="329.7" y="216.01" style="font-size:8.6px">0.25</text>
<line class="tk" x1="317.3" x2="319.1" y1="213.0" y2="213.0"/><line class="tk" x1="325.1" x2="326.90000000000003" y1="213.0" y2="213.0"/>
<text class="ll" x="329.7" y="226.41" style="font-size:8.6px">0.00</text>
<line class="tk" x1="317.3" x2="319.1" y1="223.4" y2="223.4"/><line class="tk" x1="325.1" x2="326.90000000000003" y1="223.4" y2="223.4"/>
<text class="ll" x="329.7" y="236.61" style="font-size:8.6px">−0.25</text>
<line class="tk" x1="317.3" x2="319.1" y1="233.6" y2="233.6"/><line class="tk" x1="325.1" x2="326.90000000000003" y1="233.6" y2="233.6"/>
<text class="ll" x="329.7" y="246.91" style="font-size:8.6px">−0.50</text>
<line class="tk" x1="317.3" x2="319.1" y1="243.9" y2="243.9"/><line class="tk" x1="325.1" x2="326.90000000000003" y1="243.9" y2="243.9"/>
<linearGradient id="g621" x1="0" y1="0" x2="0" y2="1"><stop offset="0" stop-color="#df7a52"/><stop offset="0.35" stop-color="#f4d3c2"/><stop offset="0.585" stop-color="#fefefe"/><stop offset="1" stop-color="#6aa5bb"/></linearGradient>
<rect x="621.2" y="197.9" width="9.6" height="46.29999999999998" fill="url(#g621)"/>
<text class="lt" x="622.0" y="193.8" style="font-size:8.3px">beta</text>
<text class="ll" x="633.6" y="202.91" style="font-size:8.3px">0.6</text>
<line class="tk" x1="621.2" x2="623.0" y1="200.0" y2="200.0"/><line class="tk" x1="629.0" x2="630.8000000000001" y1="200.0" y2="200.0"/>
<text class="ll" x="633.6" y="211.31" style="font-size:8.3px">0.4</text>
<line class="tk" x1="621.2" x2="623.0" y1="208.4" y2="208.4"/><line class="tk" x1="629.0" x2="630.8000000000001" y1="208.4" y2="208.4"/>
<text class="ll" x="633.6" y="219.50" style="font-size:8.3px">0.2</text>
<line class="tk" x1="621.2" x2="623.0" y1="216.6" y2="216.6"/><line class="tk" x1="629.0" x2="630.8000000000001" y1="216.6" y2="216.6"/>
<text class="ll" x="633.6" y="227.71" style="font-size:8.3px">0.0</text>
<line class="tk" x1="621.2" x2="623.0" y1="224.8" y2="224.8"/><line class="tk" x1="629.0" x2="630.8000000000001" y1="224.8" y2="224.8"/>
<text class="ll" x="633.6" y="235.91" style="font-size:8.3px">−0.2</text>
<line class="tk" x1="621.2" x2="623.0" y1="233.0" y2="233.0"/><line class="tk" x1="629.0" x2="630.8000000000001" y1="233.0" y2="233.0"/>
<text class="ll" x="633.6" y="244.10" style="font-size:8.3px">−0.4</text>
<line class="tk" x1="621.2" x2="623.0" y1="241.2" y2="241.2"/><line class="tk" x1="629.0" x2="630.8000000000001" y1="241.2" y2="241.2"/>
</svg>
</body></html>
